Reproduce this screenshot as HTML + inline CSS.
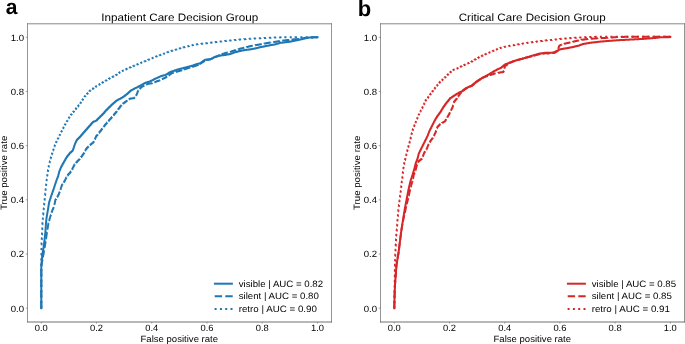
<!DOCTYPE html>
<html><head><meta charset="utf-8"><style>
html,body{margin:0;padding:0;background:#fff;}
svg{display:block;will-change:transform;}
text{font-family:"Liberation Sans",sans-serif;fill:#000;text-rendering:geometricPrecision;}
.tk{font-size:9.1px;}
.ti{font-size:10.8px;}
.lb{font-size:9.2px;}
.lg{font-size:9.2px;}
.pl{font-size:22px;font-weight:bold;}
.pa{font-size:21px;font-weight:bold;}
</style></head><body>
<svg width="685" height="344" viewBox="0 0 685 344">
<rect width="685" height="344" fill="#fff"/>
<g>
<path d="M41.30 308.20v-42.2v-.29h.05v-.29v-.29h.05v-.29v-.29h.05v-.29v-.29h.05v-.29v-.29h.05v-.28v-.29h.05v-.29v-.29h.05v-.29v-.29h.05v-.29v-.29h.05v-.29v-.29h.05v-.29v-.29h.05v-.29v-.29h.05v-.29v-.29h.05v-.29v-.29h.05v-.29v-.28h.05v-.29v-.29h.05v-.29v-.29h.05v-.29v-.29h.05v-.29v-.29h.05v-.29v-.29h.1v-.29v-.29h.11v-.3v-.29h.1v-.29v-.29h.11v-.29v-.29h.1v-.3v-.29h.1v-.29v-.29h.11v-.29v-.29h.1v-.3v-.29h.11v-.29v-.29h.1v-.29v-.29h.11v-.3v-.29h.1v-.29v-.29h.07v-.28v-.29h.07v-.28v-.29h.07v-.28v-.29h.08v-.29v-.28h.07v-.29v-.28h.07v-.29v-.28h.07v-.29v-.29h.07v-.28v-.29h.07v-.28v-.29h.07v-.28v-.29h.08v-.29v-.28h.07v-.29v-.28h.07v-.29v-.28h.07v-.29v-.29h.06v-.28v-.29h.07v-.28v-.29h.06v-.28v-.29h.07v-.29v-.28h.06v-.29v-.28h.07v-.29v-.28h.06v-.29v-.29h.06v-.28v-.29h.07v-.28v-.29h.06v-.28v-.29h.07v-.29v-.28h.06v-.29v-.28h.07v-.29v-.28h.06v-.29v-.3h.04v-.3v-.3h.04v-.3v-.3h.04v-.3v-.3h.04v-.3v-.3h.04v-.3v-.3h.04v-.3v-.3h.04v-.3v-.3h.04v-.3v-.3h.04v-.3v-.3h.04v-.3v-.3h.04v-.3v-.3h.04v-.3v-.3h.04v-.3v-.3h.04v-.3v-.3h.04v-.3v-.28h.06v-.27v-.27h.06v-.28v-.28h.06v-.27v-.28h.06v-.27v-.28h.06v-.27v-.28h.06v-.27v-.27h.06v-.28v-.28h.06v-.27v-.28h.06v-.27v-.28h.06v-.27v-.29h.1v-.29v-.29h.1v-.28v-.29h.1v-.29v-.29h.1v-.29v-.29h.1v-.28v-.29h.1v-.29v-.29h.1v-.29v-.29h.1v-.29v-.28h.1v-.29v-.29h.1v-.29v-.29h.1v-.29v-.28h.1v-.29v-.29h.1v-.29v-.29h.09v-.29v-.29h.09v-.28v-.29h.1v-.29v-.29h.09v-.29v-.29h.09v-.28v-.29h.09v-.29v-.29h.1v-.29v-.29h.09v-.29v-.28h.09v-.29v-.29h.09v-.29v-.29h.1v-.29v-.28h.09v-.29v-.29h.09v-.29v-.29h.19v-.29v-.29h.19v-.28v-.29h.2v-.29v-.29h.19v-.29v-.29h.19v-.28v-.29h.19v-.29v-.29h.2v-.29v-.29h.19v-.29v-.28h.19v-.29v-.29h.19v-.29v-.29h.2v-.29v-.28h.19v-.29v-.29h.19v-.29v-.29h.2v-.29v-.29h.2v-.29v-.29h.2v-.29v-.28h.2v-.29v-.29h.2v-.29v-.29h.2v-.29v-.29h.2v-.29v-.29h.2v-.29v-.29h.2v-.29v-.29h.2v-.29v-.28h.2v-.29v-.29h.2v-.29v-.29h.2v-.29v-.29h.2v-.29v-.28h.19v-.28v-.29h.18v-.28v-.28h.18v-.28v-.29h.19v-.28v-.28h.19v-.29v-.28h.18v-.28v-.28h.19v-.28v-.29h.18v-.28v-.28h.18v-.28v-.29h.19v-.28v-.28h.21v-.28v-.27h.2v-.28v-.28h.21v-.28v-.27h.2v-.28v-.28h.21v-.28v-.28h.2v-.27v-.28h.21v-.28v-.28h.2v-.27v-.28h.21v-.28v-.28h.14v-.28v-.27h.15v-.28v-.28h.14v-.28v-.27h.15v-.28v-.28h.14v-.28v-.28h.15v-.27v-.28h.14v-.28v-.28h.15v-.27v-.28h.14v-.28v-.27h.23v-.27v-.28h.23v-.27v-.27h.23v-.27v-.27h.23v-.28v-.27h.24v-.27v-.27h.23v-.27v-.27h.23v-.28v-.27h.23v-.27v-.28h.31v-.28v-.29h.32v-.28v-.28h.31v-.28v-.29h.32v-.28v-.28h.32v-.29v-.28h.31v-.28v-.28h.32v-.28v-.29h.31v-.28v-.28h.32v-.28v-.29h.31v-.28v-.27h.31v-.27v-.28h.32v-.27v-.27h.31v-.27v-.27h.31v-.28v-.27h.31v-.27v-.27h.32v-.27v-.27h.31v-.28v-.27h.31v-.27v-.27h.44v-.27v-.27h.45v-.28v-.27h.44v-.27v-.27h.44v-.27v-.27h.44v-.27v-.28h.45v-.27v-.27h.44v-.27v-.25h.56v-.25v-.25h.56v-.25v-.25h.56v-.25v-.25h.56v-.25v-.25h.56v-.25v-.3h.2v-.3v-.3h.2v-.3v-.3h.2v-.3v-.3h.2v-.3v-.3h.2v-.3v-.3h.2v-.3v-.3h.2v-.3v-.3h.2v-.3v-.3h.2v-.3v-.3h.2v-.3v-.3h.2v-.3v-.28h.26v-.28v-.28h.25v-.27v-.28h.26v-.28v-.28h.26v-.28v-.28h.26v-.28v-.27h.25v-.28v-.28h.26v-.28v-.26h.52v-.26v-.26h.51v-.25v-.26h.52v-.26v-.26h.52v-.26v-.25h.51v-.26v-.26h.52v-.26v-.28h.47v-.27v-.27h.48v-.28v-.28h.48v-.27v-.28h.47v-.27v-.28h.48v-.27v-.28h.47v-.27v-.28h.48v-.27v-.28h.47v-.27v-.28h.5v-.29v-.28h.5v-.29v-.28h.5v-.29v-.28h.5v-.29v-.28h.5v-.29v-.28h.5v-.29v-.28h.5v-.29v-.29h.5v-.28v-.28h.5v-.29v-.28h.5v-.29v-.28h.49v-.28v-.27h.49v-.28v-.28h.49v-.28v-.27h.49v-.28v-.28h.48v-.28v-.28h.49v-.27v-.28h.49v-.28v-.28h.49v-.27v-.28h.49v-.28v-.1h.52v-.1v-.1h.51v-.1v-.1h.52v-.1v-.1h.52v-.1v-.1h.51v-.1v-.1h.52v-.1v-.27h.54v-.27v-.27h.55v-.28v-.27h.54v-.27v-.27h.54v-.27v-.27h.54v-.27v-.28h.55v-.27v-.27h.54v-.27v-.28h.58v-.29v-.28h.59v-.28v-.29h.58v-.28v-.28h.58v-.29v-.28h.59v-.28v-.29h.58v-.28v-.29h.5v-.29v-.3h.5v-.29v-.29h.5v-.29v-.29h.5v-.29v-.3h.5v-.29v-.29h.5v-.29v-.3h.6v-.3v-.3h.6v-.3v-.3h.6v-.3v-.3h.6v-.3v-.3h.6v-.3v-.3h.6v-.3v-.26h.57v-.26v-.26h.58v-.26v-.26h.57v-.25v-.26h.57v-.26v-.26h.57v-.26v-.26h.58v-.26v-.26h.57v-.26v-.26h.57v-.26v-.25h.57v-.26v-.26h.58v-.26v-.26h.57v-.26v-.15h.57v-.16v-.15h.58v-.16v-.15h.57v-.16v-.15h.57v-.16v-.15h.57v-.16v-.15h.58v-.15v-.16h.57v-.15v-.16h.57v-.15v-.16h.57v-.15v-.16h.58v-.15v-.16h.57v-.15v-.2h.54v-.2v-.2h.55v-.2v-.2h.54v-.2v-.2h.54v-.2v-.2h.54v-.2v-.2h.55v-.2v-.2h.54v-.2v-.24h.56v-.25v-.24h.55v-.25v-.24h.56v-.25v-.24h.55v-.25v-.24h.56v-.24v-.25h.55v-.24v-.25h.56v-.24v-.25h.55v-.24v-.25h.56v-.24v-.14h.56v-.14v-.14h.55v-.14v-.13h.56v-.14v-.14h.55v-.14v-.14h.56v-.14v-.14h.55v-.14v-.14h.56v-.13v-.14h.55v-.14v-.14h.56v-.14v-.14h.56v-.15v-.14h.55v-.15v-.14h.56v-.15v-.14h.55v-.15v-.14h.56v-.14v-.15h.55v-.14v-.15h.56v-.14v-.15h.55v-.14v-.15h.56v-.14v-.16h.54v-.15v-.16h.55v-.16v-.16h.54v-.15v-.16h.54v-.16v-.15h.54v-.16v-.16h.55v-.16v-.15h.54v-.16v-.08h.56v-.09v-.08h.55v-.08v-.09h.56v-.08v-.08h.55v-.09v-.08h.56v-.08v-.09h.55v-.08v-.08h.56v-.09v-.08h.55v-.08v-.09h.56v-.08v-.15h.57v-.15v-.15h.58v-.15v-.15h.57v-.15v-.15h.57v-.15v-.15h.57v-.15v-.15h.58v-.15v-.15h.57v-.15v-.15h.57v-.15v-.15h.57v-.15v-.15h.58v-.15v-.15h.57v-.15v-.11h.56v-.11v-.11h.55v-.11v-.12h.56v-.11v-.11h.55v-.11v-.11h.56v-.11v-.11h.55v-.11v-.11h.56v-.12v-.11h.55v-.11v-.11h.56v-.11v-.08h.55v-.07v-.07h.55v-.08v-.08h.55v-.07v-.08h.55v-.07v-.08h.55v-.07v-.08h.55v-.07v-.08h.55v-.07v-.08h.55v-.07v-.2h.6v-.2v-.2h.6v-.2v-.2h.6v-.2v-.2h.6v-.2v-.2h.6v-.2v-.2h.6v-.2v-.2h.6v-.2v-.1h.58v-.09v-.1h.59v-.09v-.1h.58v-.1v-.09h.59v-.1v-.1h.58v-.09v-.1h.59v-.09v-.1h.58v-.1v-.09h.59v-.1v-.09h.58v-.1v-.1h.59v-.09v-.1h.58v-.1v-.09h.59v-.1v-.09h.58v-.1v-.07h.56v-.07v-.08h.55v-.07v-.07h.56v-.07v-.08h.55v-.07v-.07h.56v-.07v-.07h.55v-.08v-.07h.56v-.07v-.07h.55v-.08v-.07h.56v-.07v-.07h.58v-.08v-.07h.57v-.07v-.08h.58v-.07v-.07h.58v-.07v-.08h.57v-.07v-.07h.58v-.08v-.07h.58v-.07v-.08h.58v-.07v-.07h.57v-.08v-.07h.58v-.07v-.07h.58v-.08v-.07h.57v-.07v-.08h.58v-.07v-.1h.58v-.09v-.1h.57v-.09v-.1h.58v-.1v-.09h.58v-.1v-.1h.57v-.09v-.1h.58v-.09v-.1h.58v-.1v-.09h.58v-.1v-.09h.57v-.1v-.1h.58v-.09v-.1h.58v-.1v-.09h.57v-.1v-.09h.58v-.1v-.04h.55v-.04v-.03h.55v-.04v-.04h.55v-.03v-.04h.55v-.04v-.21h.56v-.21v-.2h.55v-.21v-.21h.56v-.21v-.21h.55v-.21v-.2h.56v-.21v-.21h.55v-.21v-.21h.56v-.21v-.2h.55v-.21v-.21h.56v-.21v-.01h.56v-.02v-.01h.55v-.02v-.01h.56v-.01v-.02h.55v-.01v-.02h.56v-.01v-.01h.55v-.02v-.01h.56v-.01v-.02h.55v-.01v-.02h.56v-.01v-.14h.56v-.15v-.14h.55v-.15v-.14h.56v-.15v-.14h.55v-.15v-.14h.56v-.14v-.15h.55v-.14v-.15h.56v-.14v-.15h.55v-.14v-.15h.56v-.14v-.07h.56v-.07v-.08h.55v-.07v-.07h.56v-.07v-.08h.55v-.07v-.07h.56v-.07v-.07h.55v-.08v-.07h.56v-.07v-.07h.55v-.08v-.07h.56v-.07v-.03h.56v-.04v-.03h.55v-.03v-.04h.56v-.03v-.03h.55v-.04v-.03h.56v-.03v-.04h.55v-.03v-.03h.56v-.04v-.03h.55v-.03v-.04h.56v-.03v-.06h.56v-.05v-.06h.55v-.05v-.06h.56v-.05v-.06h.55v-.05v-.06h.56v-.06v-.05h.55v-.06v-.05h.56v-.06v-.05h.55v-.06v-.05h.56v-.06v-.1h.56v-.09v-.1h.55v-.1v-.1h.56v-.09v-.1h.55v-.1v-.09h.56v-.1v-.1h.55v-.1v-.09h.56v-.1v-.1h.55v-.1v-.09h.56v-.1v-.07h.56v-.07v-.07h.55v-.07v-.07h.56v-.07v-.07h.55v-.07v-.06h.56v-.07v-.07h.55v-.07v-.07h.56v-.07v-.07h.55v-.07v-.07h.56v-.07v-.06h.56v-.05v-.06h.55v-.05v-.06h.56v-.05v-.06h.55v-.05v-.06h.56v-.06v-.05h.55v-.06v-.05h.56v-.06v-.05h.55v-.06v-.05h.56v-.06v-.03h.56v-.04v-.03h.55v-.03v-.04h.56v-.03v-.03h.55v-.04v-.03h.56v-.03v-.04h.55v-.03v-.03h.56v-.04v-.03h.55v-.03v-.04h.56v-.03v-.05h.56v-.05v-.05h.55v-.05v-.05h.56v-.05v-.05h.55v-.05v-.05h.56v-.05v-.05h.55v-.05v-.05h.56v-.05v-.05h.55v-.05v-.05h.56v-.05v-.07h.56v-.07v-.07h.55v-.07v-.07h.56v-.07v-.07h.55v-.07v-.06h.56v-.07v-.07h.55v-.07v-.07h.56v-.07v-.07h.55v-.07v-.07h.56v-.07v-.06h.56v-.05v-.06h.55v-.05v-.06h.56v-.05v-.06h.55v-.05v-.06h.56v-.06v-.05h.55v-.06v-.05h.56v-.06v-.05h.55v-.06v-.05h.56v-.06v-.06h.56v-.05v-.06h.55v-.05v-.06h.56v-.05v-.06h.55v-.05v-.06h.56v-.06v-.05h.55v-.06v-.05h.56v-.06v-.05h.55v-.06v-.05h.56v-.06v-.05h.56v-.04v-.05h.55v-.05v-.05h.56v-.04v-.05h.55v-.05v-.04h.56v-.05v-.05h.55v-.05v-.04h.56v-.05v-.05h.55v-.05v-.04h.56v-.05v-.08h.56v-.09v-.08h.55v-.08v-.09h.56v-.08v-.08h.55v-.09v-.08h.56v-.08v-.09h.55v-.08v-.08h.56v-.09v-.08h.55v-.08v-.09h.56v-.08v-.03h.56v-.04v-.03h.57v-.04v-.03h.56v-.03v-.04h.57v-.03v-.03h.56v-.04v-.03h.57v-.04v-.03h.56v-.03v-.04h.57v-.03v-.03h.56v-.04v-.03h.57v-.04v-.03h.56v-.03v-.04h.57v-.03v-.04h.56v-.03v-.03h.57v-.04v-.03h.56v-.03v-.04h.57v-.03v-.04h.56v-.03v-.06h.6v-.06v-.06h.6v-.06v-.06h.6v-.07v-.06h.6v-.06v-.06h.6v-.06v-.06h.6v-.06v-.06h.6v-.06v-.06h.6v-.07v-.06h.6v-.06v-.06h.6v-.06v-.06h.6v-.06v-.06h.6v-.06v-.06h.6v-.06v-.07h.6v-.06v-.06h.6v-.06v-.06h.6v-.06v-.07h.58v-.08v-.07h.58v-.07v-.07h.59v-.08v-.07h.58v-.07v-.07h.58v-.08v-.07h.58v-.07v-.08h.58v-.07v-.07h.58v-.07v-.08h.59v-.07v-.07h.58v-.07v-.08h.58v-.07v-.05h.53v-.05v-.05h.54v-.05v-.05h.53v-.05v-.05h.53v-.05v-.05h.54v-.05v-.05h.53v-.05v-.01h.58v-.02v-.01h.58v-.01v-.02h.58v-.01v-.01h.58v-.02v-.01h.58v-.01v-.02h.58v-.01v-.01h.58v-.02v-.01h.58v-.01v-.02h.58v-.01v-.01h.58v-.02v-.01h.58v-.01v-.02h.58v-.01v-.01h.58v-.02v-.01h.58v-.01v-.02h.58v-.01" fill="none" stroke="#1f77b4" stroke-width="2.0" stroke-linejoin="round" stroke-linecap="square"/>
<path d="M41.30 308.20v-42.2v-.3h.11v-.3v-.3h.11v-.3v-.3h.11v-.3v-.3h.11v-.3v-.3h.11v-.3v-.3h.11v-.3v-.3h.11v-.3v-.3h.11v-.3v-.3h.11v-.3v-.3h.11v-.3v-.3h.11v-.3v-.3h.11v-.3v-.3h.11v-.3v-.3h.11v-.3v-.3h.11v-.3v-.3h.11v-.3v-.3h.11v-.3v-.3h.11v-.3v-.3h.11v-.3v-.3h.11v-.3v-.29h.1v-.29v-.29h.1v-.29v-.29h.1v-.29v-.29h.1v-.29v-.29h.1v-.28v-.29h.1v-.29v-.29h.1v-.29v-.29h.1v-.29v-.29h.1v-.29v-.29h.1v-.29v-.29h.1v-.29v-.29h.1v-.29v-.29h.1v-.29v-.29h.1v-.29v-.28h.1v-.29v-.29h.1v-.29v-.29h.1v-.29v-.29h.1v-.29v-.29h.1v-.29v-.3h.09v-.3v-.29h.09v-.3v-.3h.08v-.3v-.29h.09v-.3v-.3h.09v-.3v-.29h.09v-.3v-.3h.09v-.3v-.29h.08v-.3v-.3h.09v-.3v-.29h.09v-.3v-.3h.09v-.3v-.3h.09v-.29v-.3h.09v-.3v-.3h.08v-.29v-.3h.09v-.3v-.3h.09v-.29v-.3h.09v-.3v-.3h.09v-.29v-.3h.08v-.3v-.3h.09v-.29v-.3h.09v-.3v-.29h.1v-.29v-.29h.09v-.28v-.29h.1v-.29v-.29h.09v-.29v-.29h.1v-.28v-.29h.1v-.29v-.29h.09v-.29v-.29h.1v-.29v-.28h.1v-.29v-.29h.09v-.29v-.29h.1v-.29v-.28h.09v-.29v-.29h.1v-.29v-.27h.16v-.26v-.27h.15v-.26v-.27h.16v-.26v-.27h.16v-.26v-.27h.15v-.27v-.26h.16v-.27v-.26h.15v-.27v-.26h.16v-.27v-.28h.17v-.29v-.28h.17v-.29v-.28h.16v-.28v-.29h.17v-.28v-.29h.17v-.28v-.28h.17v-.29v-.28h.17v-.29v-.28h.17v-.29v-.28h.16v-.28v-.29h.17v-.28v-.29h.17v-.28v-.28h.23v-.29v-.28h.22v-.29v-.28h.23v-.28v-.29h.23v-.28v-.29h.23v-.28v-.28h.22v-.29v-.28h.23v-.29v-.28h.23v-.29v-.28h.23v-.28v-.29h.22v-.28v-.29h.23v-.28v-.28h.12v-.29v-.28h.12v-.29v-.28h.11v-.28v-.29h.12v-.28v-.29h.12v-.28v-.28h.12v-.29v-.28h.12v-.29v-.28h.12v-.29v-.28h.11v-.28v-.29h.12v-.28v-.29h.12v-.28v-.28h.34v-.28v-.27h.35v-.28v-.28h.34v-.28v-.27h.35v-.28v-.28h.34v-.28v-.28h.35v-.27v-.28h.34v-.28v-.28h.35v-.27v-.28h.34v-.28v-.28h.21v-.28v-.27h.21v-.28v-.28h.21v-.28v-.27h.21v-.28v-.28h.22v-.28v-.28h.21v-.27v-.28h.21v-.28v-.28h.21v-.27v-.28h.21v-.28v-.28h.18v-.28v-.27h.18v-.28v-.28h.17v-.28v-.27h.18v-.28v-.28h.18v-.28v-.28h.18v-.27v-.28h.17v-.28v-.28h.18v-.27v-.28h.18v-.28v-.28h.38v-.27v-.27h.37v-.28v-.28h.38v-.27v-.28h.37v-.27v-.28h.38v-.27v-.28h.37v-.27v-.28h.38v-.27v-.28h.37v-.27v-.27h.24v-.27v-.28h.23v-.27v-.27h.24v-.27v-.27h.24v-.27v-.28h.24v-.27v-.27h.24v-.27v-.27h.23v-.28v-.27h.24v-.27v-.28h.48v-.28v-.27h.49v-.28v-.28h.48v-.28v-.27h.48v-.28v-.28h.49v-.28v-.28h.48v-.27v-.28h.48v-.28v-.28h.49v-.27v-.28h.48v-.28v-.29h.29v-.29v-.29h.29v-.28v-.29h.29v-.29v-.29h.28v-.29v-.29h.29v-.28v-.29h.29v-.29v-.29h.29v-.29v-.29h.29v-.29v-.28h.29v-.29v-.29h.28v-.29v-.29h.29v-.29v-.28h.29v-.29v-.29h.29v-.29v-.27h.54v-.27v-.26h.53v-.27v-.27h.54v-.27v-.26h.53v-.27v-.27h.54v-.27v-.27h.53v-.26v-.27h.54v-.27v-.27h.45v-.27v-.26h.45v-.27v-.27h.45v-.27v-.26h.45v-.27v-.27h.45v-.27v-.27h.45v-.26v-.27h.45v-.27v-.3h.4v-.29v-.3h.4v-.29v-.3h.4v-.3v-.29h.4v-.3v-.29h.4v-.3v-.29h.4v-.3v-.27h.27v-.27v-.27h.27v-.28v-.27h.27v-.27v-.27h.28v-.27v-.27h.27v-.27v-.28h.27v-.27v-.27h.27v-.27v-.26h.53v-.27v-.26h.53v-.27v-.26h.53v-.27v-.26h.52v-.26v-.27h.53v-.26v-.27h.53v-.26v-.27h.53v-.26v-.23h.54v-.23v-.23h.55v-.22v-.23h.54v-.23v-.23h.54v-.23v-.23h.54v-.23v-.22h.55v-.23v-.23h.54v-.23v-.28h.25v-.28v-.28h.25v-.28v-.28h.25v-.28v-.28h.25v-.28v-.28h.25v-.28v-.28h.25v-.28v-.28h.25v-.28v-.28h.25v-.28v-.28h.25v-.28v-.28h.25v-.28v-.29h.45v-.28v-.29h.46v-.29v-.28h.45v-.29v-.28h.46v-.29v-.29h.45v-.28v-.29h.46v-.29v-.28h.45v-.29v-.29h.46v-.28v-.29h.45v-.28v-.29h.46v-.29v-.28h.45v-.29v-.28h.42v-.28v-.27h.42v-.28v-.28h.43v-.28v-.27h.42v-.28v-.28h.42v-.28v-.28h.42v-.27v-.28h.43v-.28v-.28h.42v-.27v-.28h.42v-.28v-.28h.47v-.27v-.28h.48v-.27v-.28h.47v-.27v-.28h.48v-.27v-.28h.47v-.27v-.27h.48v-.28v-.27h.48v-.28v-.27h.47v-.28v-.28h.5v-.29v-.28h.5v-.29v-.28h.5v-.29v-.28h.5v-.29v-.28h.5v-.29v-.28h.5v-.29v-.28h.5v-.29v-.28h.5v-.29v-.28h.5v-.29v-.28h.5v-.29v-.3h.49v-.3v-.3h.48v-.3v-.3h.49v-.3v-.3h.49v-.3v-.3h.49v-.3v-.3h.48v-.3v-.3h.49v-.3v-.3h.49v-.3v-.28h.41v-.29v-.28h.41v-.28v-.29h.41v-.28v-.28h.41v-.29v-.28h.42v-.28v-.29h.41v-.28v-.28h.41v-.29v-.28h.41v-.28v-.29h.41v-.28v-.22h.54v-.22v-.22h.55v-.23v-.22h.54v-.22v-.22h.54v-.22v-.22h.54v-.22v-.23h.55v-.22v-.22h.54v-.22v-.19h.56v-.19v-.19h.55v-.19v-.18h.56v-.19v-.19h.55v-.19v-.19h.56v-.19v-.19h.55v-.19v-.19h.56v-.18v-.19h.55v-.19v-.19h.56v-.19v-.03h.54v-.03v-.03h.55v-.02v-.03h.54v-.03v-.03h.54v-.03v-.03h.54v-.03v-.02h.55v-.03v-.03h.54v-.03v-.26h.42v-.26v-.26h.41v-.25v-.26h.42v-.26v-.26h.42v-.26v-.25h.41v-.26v-.26h.42v-.26v-.28h.21v-.28v-.27h.21v-.28v-.28h.21v-.28v-.27h.21v-.28v-.28h.22v-.28v-.28h.21v-.27v-.28h.21v-.28v-.28h.21v-.27v-.28h.21v-.28v-.27h.52v-.26v-.27h.51v-.27v-.26h.52v-.27v-.27h.52v-.26v-.27h.51v-.27v-.26h.52v-.27v-.14h.57v-.14v-.14h.58v-.14v-.14h.57v-.15v-.14h.57v-.14v-.14h.57v-.14v-.14h.58v-.14v-.14h.57v-.14v-.14h.57v-.14v-.15h.57v-.14v-.14h.58v-.14v-.14h.57v-.14v-.03h.56v-.04v-.03h.55v-.03v-.04h.56v-.03v-.03h.55v-.04v-.03h.56v-.03v-.04h.55v-.03v-.03h.56v-.04v-.03h.55v-.03v-.04h.56v-.03v-.12h.56v-.12v-.13h.55v-.12v-.12h.56v-.12v-.13h.55v-.12v-.12h.56v-.12v-.12h.55v-.13v-.12h.56v-.12v-.12h.55v-.13v-.12h.56v-.12v-.12h.6v-.13v-.12h.6v-.13v-.12h.6v-.13v-.12h.6v-.13v-.12h.6v-.13v-.12h.6v-.13v-.14h.57v-.14v-.14h.58v-.14v-.14h.57v-.15v-.14h.57v-.14v-.14h.57v-.14v-.14h.58v-.14v-.14h.57v-.14v-.14h.57v-.14v-.15h.57v-.14v-.14h.58v-.14v-.14h.57v-.14v-.23h.54v-.23v-.23h.55v-.22v-.23h.54v-.23v-.23h.54v-.23v-.23h.54v-.23v-.22h.55v-.23v-.23h.54v-.23v-.08h.59v-.09v-.08h.58v-.08v-.09h.59v-.08v-.08h.59v-.09v-.08h.58v-.08v-.09h.59v-.08v-.08h.59v-.09v-.08h.58v-.08v-.09h.59v-.08v-.08h.59v-.09v-.08h.58v-.08v-.09h.59v-.08v-.08h.59v-.09v-.08h.58v-.08v-.09h.59v-.08v-.1h.58v-.09v-.1h.57v-.09v-.1h.58v-.1v-.09h.58v-.1v-.1h.57v-.09v-.1h.58v-.09v-.1h.58v-.1v-.09h.58v-.1v-.09h.57v-.1v-.1h.58v-.09v-.1h.58v-.1v-.09h.57v-.1v-.09h.58v-.1v-.09h.59v-.09v-.09h.59v-.09v-.1h.58v-.09v-.09h.59v-.09v-.09h.59v-.09v-.09h.59v-.09v-.1h.59v-.09v-.09h.59v-.09v-.09h.58v-.09v-.09h.59v-.09v-.09h.59v-.1v-.09h.59v-.09v-.09h.59v-.09v-.09h.59v-.09v-.09h.58v-.1v-.09h.59v-.09v-.09h.59v-.09v-.18h.59v-.18v-.19h.58v-.18v-.18h.59v-.18v-.19h.58v-.18v-.18h.59v-.18v-.18h.58v-.19v-.18h.59v-.18v-.18h.59v-.18v-.19h.58v-.18v-.18h.59v-.18v-.19h.58v-.18v-.18h.59v-.18v-.18h.58v-.19v-.18h.59v-.18v-.05h.57v-.06v-.05h.57v-.05v-.06h.57v-.05v-.05h.58v-.06v-.05h.57v-.06v-.05h.57v-.05v-.06h.57v-.05v-.12h.56v-.13v-.12h.55v-.13v-.12h.56v-.13v-.12h.55v-.13v-.12h.56v-.13v-.12h.55v-.13v-.12h.56v-.13v-.12h.55v-.13v-.12h.56v-.13v-.11h.56v-.11v-.11h.55v-.11v-.12h.56v-.11v-.11h.55v-.11v-.11h.56v-.11v-.11h.55v-.11v-.11h.56v-.12v-.11h.55v-.11v-.11h.56v-.11v-.11h.56v-.1v-.11h.55v-.1v-.11h.56v-.1v-.11h.55v-.1v-.11h.56v-.11v-.1h.55v-.11v-.1h.56v-.11v-.1h.55v-.11v-.1h.56v-.11v-.07h.56v-.06v-.07h.55v-.07v-.06h.56v-.07v-.07h.55v-.06v-.07h.56v-.07v-.06h.55v-.07v-.07h.56v-.06v-.07h.55v-.07v-.06h.56v-.07v-.09h.56v-.09v-.09h.55v-.1v-.09h.56v-.09v-.09h.55v-.09v-.09h.56v-.1v-.09h.55v-.09v-.09h.56v-.09v-.09h.55v-.1v-.09h.56v-.09v-.08h.56v-.09v-.08h.55v-.08v-.09h.56v-.08v-.08h.55v-.09v-.08h.56v-.08v-.09h.55v-.08v-.08h.56v-.09v-.08h.55v-.08v-.09h.56v-.08v-.07h.56v-.07v-.07h.55v-.07v-.07h.56v-.07v-.07h.55v-.07v-.06h.56v-.07v-.07h.55v-.07v-.07h.56v-.07v-.07h.55v-.07v-.07h.56v-.07v-.07h.56v-.07v-.07h.55v-.07v-.07h.56v-.07v-.07h.55v-.07v-.06h.56v-.07v-.07h.55v-.07v-.07h.56v-.07v-.07h.55v-.07v-.07h.56v-.07v-.06h.56v-.05v-.06h.55v-.05v-.06h.56v-.05v-.06h.55v-.05v-.06h.56v-.06v-.05h.55v-.06v-.05h.56v-.06v-.05h.55v-.06v-.05h.56v-.06v-.05h.56v-.04v-.05h.55v-.05v-.05h.56v-.04v-.05h.55v-.05v-.04h.56v-.05v-.05h.55v-.05v-.04h.56v-.05v-.05h.55v-.05v-.04h.56v-.05v-.05h.56v-.05v-.05h.55v-.05v-.05h.56v-.05v-.05h.55v-.05v-.05h.56v-.05v-.05h.55v-.05v-.05h.56v-.05v-.05h.55v-.05v-.05h.56v-.05v-.06h.56v-.05v-.06h.55v-.05v-.06h.56v-.05v-.06h.55v-.05v-.06h.56v-.06v-.05h.55v-.06v-.05h.56v-.06v-.05h.55v-.06v-.05h.56v-.06v-.03h.56v-.04v-.03h.55v-.03v-.04h.56v-.03v-.03h.55v-.04v-.03h.56v-.03v-.04h.55v-.03v-.03h.56v-.04v-.03h.55v-.03v-.04h.56v-.03v-.05h.56v-.05v-.05h.55v-.05v-.05h.56v-.05v-.05h.55v-.05v-.05h.56v-.05v-.05h.55v-.05v-.05h.56v-.05v-.05h.55v-.05v-.05h.56v-.05v-.04h.58v-.03v-.04h.58v-.04v-.03h.59v-.04v-.03h.58v-.04v-.04h.58v-.03v-.04h.58v-.04v-.03h.58v-.04v-.04h.58v-.03v-.04h.59v-.03v-.04h.58v-.04v-.03h.58v-.04v-.03h.56v-.04v-.04h.56v-.03v-.03h.56v-.04v-.04h.56v-.03v-.03h.56v-.04v-.04h.56v-.03v-.03h.56v-.04v-.04h.56v-.03v-.03h.56v-.04v-.04h.56v-.03v-.02h.6v-.02v-.02h.6v-.02v-.02h.6v-.02v-.03h.6v-.02v-.02h.6v-.02v-.02h.6v-.02v-.02h.6v-.02v-.02h.6v-.02v-.02h.6v-.02v-.03h.6v-.02v-.02h.6v-.02v-.02h.6v-.02v-.05h.58v-.05v-.05h.58v-.05v-.05h.58v-.05v-.05h.58v-.05v-.05h.58v-.05v-.05h.58v-.05v-.05h.58v-.05v-.05h.58v-.05v-.05h.58v-.05v-.05h.58v-.05v-.03h.56v-.03v-.02h.55v-.03v-.03h.56v-.03v-.02h.55v-.03v-.03h.56v-.03v-.03h.55v-.02v-.03h.56v-.03v-.03h.55v-.02v-.03h.56v-.03v-.01h.58v-.01v-.01h.57v-.02v-.01h.58v-.01v-.01h.58v-.01v-.01h.57v-.02v-.01h.58v-.01v-.01h.58v-.01v-.01h.58v-.01v-.02h.57v-.01v-.01h.58v-.01v-.01h.58v-.01v-.02h.57v-.01v-.01h.58v-.01" fill="none" stroke="#1f77b4" stroke-width="2.0" stroke-linejoin="round" stroke-dasharray="7.4 3.2"/>
<path d="M41.30 308.20v-42.2v-.3h.01v-.3v-.3v-.3v-.3h.01v-.3v-.3v-.3v-.3h.01v-.3v-.3v-.3v-.3h.01v-.3v-.3h.01v-.3v-.3v-.3v-.3h.01v-.3v-.3v-.3v-.3h.01v-.3v-.3v-.3v-.3h.01v-.3v-.3h.01v-.3v-.3v-.3v-.3h.01v-.3v-.3v-.3v-.3h.01v-.3v-.3v-.3v-.3h.01v-.3v-.3h.01v-.3v-.3v-.3v-.3h.01v-.3v-.3v-.3v-.3h.01v-.3v-.3v-.3v-.3h.01v-.3v-.3h.01v-.3v-.3v-.3v-.3h.01v-.3v-.3v-.3v-.3h.01v-.3v-.3v-.3v-.3h.01v-.3v-.3h.03v-.3v-.3h.03v-.3v-.3h.03v-.3v-.3h.03v-.3v-.3h.03v-.3v-.3h.03v-.3v-.3h.03v-.3v-.3h.03v-.3v-.3h.03v-.3v-.3h.03v-.3v-.3h.03v-.3v-.3h.03v-.3v-.3h.03v-.3v-.3h.03v-.3v-.3h.03v-.3v-.3h.03v-.3v-.3h.03v-.3v-.3h.03v-.3v-.3h.03v-.3v-.3h.03v-.3v-.3h.03v-.3v-.3h.03v-.3v-.3h.03v-.3v-.3h.03v-.3v-.3h.03v-.3v-.29h.02v-.29v-.29h.02v-.28v-.29h.02v-.29v-.29h.02v-.29v-.29h.02v-.28v-.29h.02v-.29v-.29h.01v-.29v-.29h.02v-.29v-.28h.02v-.29v-.29h.02v-.29v-.29h.02v-.29v-.28h.02v-.29v-.29h.02v-.29v-.29h.05v-.29v-.29h.05v-.3v-.29h.05v-.29v-.29h.05v-.29v-.29h.05v-.3v-.29h.05v-.29v-.29h.05v-.29v-.29h.05v-.3v-.29h.05v-.29v-.29h.05v-.29v-.29h.05v-.3v-.29h.05v-.29v-.29h.05v-.29v-.29h.05v-.3v-.29h.05v-.29v-.29h.06v-.29v-.29h.05v-.3v-.29h.06v-.29v-.29h.06v-.29v-.29h.05v-.3v-.29h.06v-.29v-.29h.06v-.29v-.29h.05v-.3v-.29h.06v-.29v-.29h.06v-.29v-.29h.05v-.3v-.29h.06v-.29v-.29h.06v-.29v-.29h.05v-.3v-.29h.06v-.29v-.29h.06v-.29v-.29h.06v-.3v-.29h.06v-.29v-.29h.06v-.29v-.29h.06v-.3v-.29h.06v-.29v-.29h.06v-.29v-.29h.06v-.3v-.29h.06v-.29v-.29h.06v-.29v-.29h.06v-.3v-.29h.06v-.29v-.29h.06v-.29v-.29h.06v-.3v-.29h.06v-.29v-.29h.06v-.3v-.29h.05v-.3v-.29h.06v-.3v-.29h.06v-.3v-.29h.06v-.3v-.29h.05v-.3v-.29h.06v-.29v-.3h.06v-.29v-.3h.05v-.29v-.3h.06v-.29v-.3h.06v-.29v-.3h.06v-.29v-.3h.05v-.29v-.3h.06v-.29v-.3h.06v-.29v-.3h.07v-.29v-.3h.06v-.29v-.3h.06v-.29v-.3h.07v-.29v-.3h.06v-.3v-.29h.07v-.3v-.29h.06v-.3v-.29h.06v-.3v-.29h.07v-.3v-.29h.06v-.3v-.3h.08v-.3v-.29h.07v-.3v-.3h.08v-.3v-.3h.08v-.29v-.3h.07v-.3v-.3h.08v-.3v-.29h.08v-.3v-.3h.08v-.3v-.3h.07v-.3v-.29h.08v-.3v-.3h.08v-.3v-.3h.07v-.29v-.3h.08v-.3v-.29h.1v-.29v-.29h.09v-.28v-.29h.1v-.29v-.29h.09v-.29v-.29h.1v-.28v-.29h.1v-.29v-.29h.09v-.29v-.29h.1v-.29v-.28h.1v-.29v-.29h.09v-.29v-.29h.1v-.29v-.28h.09v-.29v-.29h.1v-.29v-.29h.14v-.29v-.29h.14v-.28v-.29h.15v-.29v-.29h.14v-.29v-.29h.14v-.28v-.29h.14v-.29v-.29h.15v-.29v-.29h.14v-.29v-.28h.14v-.29v-.29h.14v-.29v-.29h.15v-.29v-.28h.14v-.29v-.29h.14v-.29v-.28h.17v-.29v-.28h.18v-.29v-.28h.17v-.28v-.29h.17v-.28v-.29h.17v-.28v-.28h.18v-.29v-.28h.17v-.29v-.28h.17v-.29v-.28h.17v-.28v-.29h.18v-.28v-.29h.17v-.28v-.29h.19v-.29v-.29h.19v-.28v-.29h.2v-.29v-.29h.19v-.29v-.29h.19v-.28v-.29h.19v-.29v-.29h.2v-.29v-.29h.19v-.29v-.28h.19v-.29v-.29h.19v-.29v-.29h.2v-.29v-.28h.19v-.29v-.29h.19v-.29v-.24h.2v-.24v-.24h.2v-.24v-.24h.2v-.24v-.24h.2v-.24v-.24h.2v-.24v-.29h.29v-.29v-.29h.3v-.29v-.29h.29v-.29v-.29h.29v-.29v-.29h.3v-.29v-.29h.29v-.29v-.29h.29v-.29v-.29h.3v-.29v-.29h.29v-.29v-.29h.29v-.29v-.29h.3v-.29v-.29h.29v-.29v-.29h.29v-.29v-.29h.3v-.29v-.29h.29v-.29v-.29h.29v-.3v-.29h.3v-.29v-.3h.29v-.29v-.29h.29v-.3v-.29h.3v-.29v-.3h.29v-.29v-.29h.29v-.3v-.29h.3v-.29v-.3h.29v-.29v-.29h.29v-.3v-.29h.3v-.29v-.3h.29v-.29v-.29h.29v-.3v-.29h.3v-.29v-.3h.29v-.29v-.29h.34v-.3v-.29h.34v-.29v-.3h.34v-.29v-.29h.34v-.3v-.29h.34v-.29v-.3h.34v-.29v-.29h.34v-.3v-.29h.34v-.29v-.3h.34v-.29v-.29h.34v-.3v-.29h.34v-.29v-.3h.34v-.29v-.29h.34v-.3v-.29h.34v-.29v-.3h.34v-.29v-.29h.45v-.28v-.29h.46v-.29v-.28h.45v-.29v-.28h.46v-.29v-.29h.45v-.28v-.29h.46v-.29v-.28h.45v-.29v-.29h.46v-.28v-.29h.45v-.28v-.29h.46v-.29v-.28h.45v-.29v-.28h.46v-.27v-.28h.47v-.28v-.28h.46v-.27v-.28h.46v-.28v-.28h.47v-.27v-.28h.46v-.28v-.27h.47v-.28v-.28h.46v-.28v-.27h.46v-.28v-.28h.47v-.28v-.27h.46v-.28v-.29h.38v-.29v-.3h.39v-.29v-.29h.38v-.29v-.3h.39v-.29v-.29h.38v-.29v-.3h.39v-.29v-.29h.38v-.29v-.29h.39v-.3v-.29h.38v-.29v-.29h.39v-.3v-.29h.38v-.29v-.29h.39v-.3v-.29h.38v-.29v-.28h.5v-.28v-.28h.5v-.28v-.28h.5v-.28v-.28h.5v-.28v-.28h.5v-.28v-.28h.5v-.28v-.28h.5v-.28v-.28h.5v-.28v-.28h.5v-.28v-.28h.5v-.28v-.2h.57v-.2v-.2h.58v-.2v-.2h.57v-.2v-.2h.57v-.2v-.2h.57v-.2v-.2h.58v-.2v-.2h.57v-.2v-.2h.57v-.2v-.2h.57v-.2v-.2h.58v-.2v-.2h.57v-.2v-.17h.57v-.18v-.17h.58v-.17v-.17h.57v-.18v-.17h.57v-.17v-.17h.57v-.18v-.17h.58v-.17v-.18h.57v-.17v-.17h.57v-.17v-.18h.57v-.17v-.17h.58v-.17v-.18h.57v-.17v-.17h.57v-.17v-.16h.58v-.17v-.17h.57v-.17v-.17h.57v-.17v-.16h.57v-.17v-.17h.58v-.17v-.17h.57v-.16v-.17h.57v-.17v-.17h.57v-.17v-.17h.58v-.16v-.17h.57v-.17v-.15h.57v-.14v-.15h.58v-.14v-.15h.57v-.14v-.15h.57v-.14v-.15h.57v-.14v-.15h.58v-.15v-.14h.57v-.15v-.14h.57v-.15v-.14h.57v-.15v-.14h.58v-.15v-.14h.57v-.15v-.19h.55v-.19v-.19h.56v-.19v-.19h.55v-.2v-.19h.56v-.19v-.19h.55v-.19v-.19h.56v-.19v-.19h.55v-.19v-.19h.56v-.19v-.2h.55v-.19v-.19h.56v-.19v-.19h.55v-.19v-.13h.59v-.14v-.13h.6v-.14v-.13h.59v-.14v-.13h.6v-.13v-.14h.59v-.13v-.14h.6v-.13v-.13h.59v-.14v-.13h.6v-.14v-.13h.59v-.14v-.13h.6v-.13v-.14h.59v-.13v-.14h.6v-.13v-.14h.59v-.13v-.13h.6v-.14v-.13h.59v-.14v-.13h.6v-.13v-.14h.59v-.13v-.14h.6v-.13v-.14h.59v-.13v-.12h.6v-.13v-.12h.59v-.13v-.12h.6v-.12v-.13h.59v-.12v-.12h.6v-.13v-.12h.59v-.13v-.12h.6v-.12v-.13h.59v-.12v-.12h.6v-.13v-.12h.59v-.13v-.12h.6v-.12v-.13h.59v-.12v-.13h.6v-.12v-.12h.59v-.13v-.12h.6v-.12v-.13h.59v-.12v-.13h.6v-.12v-.12h.59v-.13v-.12h.6v-.12v-.13h.59v-.12v-.13h.6v-.12v-.12h.6v-.12v-.12h.6v-.13v-.12h.6v-.12v-.12h.6v-.12v-.12h.6v-.12v-.13h.6v-.12v-.12h.6v-.12v-.12h.6v-.12v-.12h.6v-.13v-.12h.6v-.12v-.12h.6v-.12v-.12h.6v-.12v-.13h.6v-.12v-.12h.6v-.12v-.12h.6v-.12v-.12h.6v-.13v-.12h.6v-.12v-.12h.6v-.12v-.12h.6v-.12v-.13h.6v-.12v-.12h.6v-.12v-.11h.6v-.11v-.12h.59v-.11v-.11h.6v-.11v-.11h.59v-.12v-.11h.6v-.11v-.11h.59v-.11v-.11h.6v-.12v-.11h.59v-.11v-.11h.6v-.11v-.12h.59v-.11v-.11h.6v-.11v-.11h.59v-.12v-.11h.6v-.11v-.11h.59v-.11v-.12h.6v-.11v-.11h.59v-.11v-.11h.6v-.11v-.12h.59v-.11v-.11h.6v-.11v-.11h.59v-.12v-.11h.6v-.11v-.09h.57v-.08v-.09h.58v-.09v-.08h.57v-.09v-.08h.57v-.09v-.09h.57v-.08v-.09h.58v-.09v-.08h.57v-.09v-.09h.57v-.08v-.09h.57v-.08v-.09h.58v-.09v-.08h.57v-.09v-.09h.57v-.08v-.09h.58v-.09v-.08h.57v-.09v-.08h.57v-.09v-.09h.57v-.08v-.09h.58v-.09v-.08h.57v-.09v-.09h.57v-.08v-.09h.57v-.08v-.09h.58v-.09v-.08h.57v-.09v-.07h.58v-.07v-.07h.58v-.07v-.07h.58v-.06v-.07h.58v-.07v-.07h.58v-.07v-.07h.59v-.07v-.07h.58v-.07v-.07h.58v-.06v-.07h.58v-.07v-.07h.58v-.07v-.07h.58v-.07v-.07h.58v-.07v-.07h.58v-.07v-.06h.58v-.07v-.07h.58v-.07v-.07h.59v-.07v-.07h.58v-.07v-.07h.58v-.07v-.06h.58v-.07v-.07h.58v-.07v-.07h.58v-.07v-.04h.56v-.04v-.04h.55v-.04v-.03h.56v-.04v-.04h.55v-.04v-.04h.56v-.04v-.04h.55v-.04v-.04h.56v-.03v-.04h.55v-.04v-.04h.56v-.04v-.03h.6v-.04v-.03h.59v-.03v-.04h.6v-.03v-.03h.59v-.04v-.03h.6v-.03v-.04h.59v-.03v-.03h.6v-.04v-.03h.59v-.03v-.04h.6v-.03v-.03h.59v-.04v-.03h.6v-.03v-.04h.59v-.03v-.03h.6v-.04v-.03h.59v-.03v-.04h.6v-.03v-.03h.59v-.04v-.03h.6v-.03v-.04h.59v-.03v-.03h.6v-.04v-.03h.59v-.03v-.04h.6v-.03v-.04h.6v-.03v-.04h.59v-.03v-.04h.6v-.03v-.04h.59v-.04v-.03h.6v-.04v-.03h.59v-.04v-.03h.6v-.04v-.04h.59v-.03v-.04h.6v-.03v-.04h.59v-.03v-.04h.6v-.04v-.03h.59v-.04v-.03h.6v-.04v-.03h.59v-.04v-.04h.6v-.03v-.04h.59v-.03v-.04h.6v-.03v-.04h.59v-.04v-.03h.6v-.04v-.03h.59v-.04v-.03h.6v-.04v-.03h.6v-.03v-.03h.59v-.03v-.03h.6v-.03v-.03h.59v-.03v-.03h.6v-.03v-.03h.59v-.03v-.03h.6v-.03v-.03h.59v-.03v-.03h.6v-.03v-.03h.59v-.03v-.02h.6v-.03v-.03h.59v-.03v-.03h.6v-.03v-.03h.59v-.03v-.03h.6v-.03v-.03h.59v-.03v-.03h.6v-.03v-.03h.59v-.03v-.03h.6v-.03v-.03h.59v-.03v-.03h.6v-.03v-.02h.6v-.03v-.02h.59v-.03v-.02h.6v-.02v-.03h.59v-.02v-.02h.6v-.03v-.02h.59v-.03v-.02h.6v-.02v-.03h.59v-.02v-.02h.6v-.03v-.02h.59v-.03v-.02h.6v-.02v-.03h.59v-.02v-.03h.6v-.02v-.02h.59v-.03v-.02h.6v-.02v-.03h.59v-.02v-.03h.6v-.02v-.02h.59v-.03v-.02h.6v-.02v-.03h.59v-.02v-.03h.6v-.02v-.02h.6v-.01v-.02h.59v-.01v-.02h.6v-.01v-.02h.59v-.01v-.02h.6v-.01v-.02h.59v-.02v-.01h.6v-.02v-.01h.59v-.02v-.01h.6v-.02v-.01h.59v-.02v-.02h.6v-.01v-.02h.59v-.01v-.02h.6v-.01v-.02h.59v-.01v-.02h.6v-.01v-.02h.59v-.02v-.01h.6v-.02v-.01h.59v-.02v-.01h.6v-.02v-.01h.59v-.02v-.01h.6v-.02v-.01h.6v-.02v-.01h.59v-.02v-.01h.6v-.02v-.01h.59v-.01v-.02h.6v-.01v-.02h.59v-.01v-.02h.6v-.01v-.01h.59v-.02v-.01h.6v-.02v-.01h.59v-.02v-.01h.6v-.01v-.02h.59v-.01v-.02h.6v-.01v-.02h.59v-.01v-.01h.6v-.02v-.01h.59v-.02v-.01h.6v-.02v-.01h.59v-.01v-.02h.6v-.01v-.02h.59v-.01v-.02h.6v-.01v-.01h.59v-.01h.59v-.01h.59v-.01v-.01h.59v-.01h.58v-.01v-.01h.59v-.01h.59v-.01h.59v-.01v-.01h.59v-.01h.59v-.01v-.01h.59v-.01h.59v-.01h.59v-.01v-.01h.58v-.01h.59v-.01v-.01h.59v-.01h.59v-.01h.59v-.01h.59h.59h.59h.59h.59v-.01h.59h.6h.59h.59h.59h.59h.59h.59h.59h.59h.59v-.01h.59h.59h.59h.59h.6h.59h.59h.59h.59h.59h.59v-.01h.59h.59h.59h.59h.59h.59h.6h.59h.59h.59h.59v-.01h.59h.59h.59h.59h.59h.59h.59h.59h.59h.6h.59v-.01h.59h.59h.59h.59h.59" fill="none" stroke="#1f77b4" stroke-width="2.0" stroke-linejoin="round" stroke-dasharray="2 3.3"/>
</g>
<line x1="27.5" y1="23.1" x2="27.5" y2="322.5" stroke="#949494" stroke-width="1"/>
<line x1="331.5" y1="23.1" x2="331.5" y2="322.5" stroke="#949494" stroke-width="1"/>
<line x1="27.0" y1="23.8" x2="332.0" y2="23.8" stroke="#888" stroke-width="1"/>
<line x1="27.0" y1="322.0" x2="332.0" y2="322.0" stroke="#707070" stroke-width="1"/>
<line x1="41.30" y1="322.0" x2="41.30" y2="323.5" stroke="#666" stroke-width="0.6"/>
<line x1="25.8" y1="308.20" x2="27.5" y2="308.20" stroke="#666" stroke-width="0.6"/>
<text x="34.80" y="331.45" class="tk" textLength="13.0" lengthAdjust="spacingAndGlyphs">0.0</text>
<text x="10.75" y="311.55" class="tk" textLength="13.35" lengthAdjust="spacingAndGlyphs">0.0</text>
<line x1="96.54" y1="322.0" x2="96.54" y2="323.5" stroke="#666" stroke-width="0.6"/>
<line x1="25.8" y1="254.02" x2="27.5" y2="254.02" stroke="#666" stroke-width="0.6"/>
<text x="90.04" y="331.45" class="tk" textLength="13.0" lengthAdjust="spacingAndGlyphs">0.2</text>
<text x="10.75" y="257.37" class="tk" textLength="13.35" lengthAdjust="spacingAndGlyphs">0.2</text>
<line x1="151.78" y1="322.0" x2="151.78" y2="323.5" stroke="#666" stroke-width="0.6"/>
<line x1="25.8" y1="199.84" x2="27.5" y2="199.84" stroke="#666" stroke-width="0.6"/>
<text x="145.28" y="331.45" class="tk" textLength="13.0" lengthAdjust="spacingAndGlyphs">0.4</text>
<text x="10.75" y="203.19" class="tk" textLength="13.35" lengthAdjust="spacingAndGlyphs">0.4</text>
<line x1="207.02" y1="322.0" x2="207.02" y2="323.5" stroke="#666" stroke-width="0.6"/>
<line x1="25.8" y1="145.66" x2="27.5" y2="145.66" stroke="#666" stroke-width="0.6"/>
<text x="200.52" y="331.45" class="tk" textLength="13.0" lengthAdjust="spacingAndGlyphs">0.6</text>
<text x="10.75" y="149.01" class="tk" textLength="13.35" lengthAdjust="spacingAndGlyphs">0.6</text>
<line x1="262.26" y1="322.0" x2="262.26" y2="323.5" stroke="#666" stroke-width="0.6"/>
<line x1="25.8" y1="91.48" x2="27.5" y2="91.48" stroke="#666" stroke-width="0.6"/>
<text x="255.76" y="331.45" class="tk" textLength="13.0" lengthAdjust="spacingAndGlyphs">0.8</text>
<text x="10.75" y="94.83" class="tk" textLength="13.35" lengthAdjust="spacingAndGlyphs">0.8</text>
<line x1="317.50" y1="322.0" x2="317.50" y2="323.5" stroke="#666" stroke-width="0.6"/>
<line x1="25.8" y1="37.30" x2="27.5" y2="37.30" stroke="#666" stroke-width="0.6"/>
<text x="311.00" y="331.45" class="tk" textLength="13.0" lengthAdjust="spacingAndGlyphs">1.0</text>
<text x="10.75" y="40.65" class="tk" textLength="13.35" lengthAdjust="spacingAndGlyphs">1.0</text>
<text x="101.2" y="20.9" class="ti" textLength="157.0" lengthAdjust="spacingAndGlyphs">Inpatient Care Decision Group</text>
<text x="140.5" y="342" class="lb" textLength="77.6" lengthAdjust="spacingAndGlyphs">False positive rate</text>
<text transform="translate(7.0,210.0) rotate(-90)" x="0" y="0" class="lb" textLength="74.3" lengthAdjust="spacingAndGlyphs">True positive rate</text>
<line x1="213.9" y1="283.7" x2="232.9" y2="283.7" stroke="#1f77b4" stroke-width="2.0"/>
<text x="238.7" y="286.6" class="lg" textLength="84.4" lengthAdjust="spacingAndGlyphs">visible | AUC = 0.82</text>
<line x1="214.70000000000002" y1="296.3" x2="232.9" y2="296.3" stroke="#1f77b4" stroke-width="2.0" stroke-dasharray="7.4 3.2"/>
<text x="238.7" y="299.3" class="lg" textLength="80.2" lengthAdjust="spacingAndGlyphs">silent | AUC = 0.80</text>
<line x1="214.6" y1="309.1" x2="232.9" y2="309.1" stroke="#1f77b4" stroke-width="2.0" stroke-dasharray="2 3.3"/>
<text x="238.7" y="311.9" class="lg" textLength="78.2" lengthAdjust="spacingAndGlyphs">retro | AUC = 0.90</text>
<text x="5.7" y="14.3" class="pa">a</text>
<g>
<path d="M394.30 308.20v-.3h.01v-.3v-.3h.02v-.3v-.3h.01v-.3v-.3h.01v-.3v-.3h.02v-.3v-.3h.01v-.3v-.3h.02v-.3v-.3h.01v-.3v-.3h.01v-.3v-.3h.02v-.3v-.3h.01v-.3v-.3h.01v-.3v-.3h.02v-.3v-.3h.01v-.3v-.3h.01v-.3v-.3h.02v-.3v-.3h.01v-.3v-.3h.02v-.3v-.3h.01v-.3v-.3h.01v-.3v-.3h.02v-.3v-.3h.01v-.3v-.28h.02v-.29v-.28h.02v-.29v-.28h.03v-.29v-.28h.02v-.29v-.28h.02v-.29v-.28h.02v-.29v-.28h.03v-.29v-.28h.02v-.29v-.28h.02v-.29v-.28h.02v-.28v-.29h.02v-.28v-.29h.03v-.28v-.29h.02v-.28v-.29h.02v-.28v-.29h.02v-.28v-.29h.03v-.28v-.29h.02v-.28v-.29h.02v-.28v-.3h.05v-.3v-.3h.04v-.3v-.3h.05v-.3v-.29h.04v-.3v-.3h.05v-.3v-.3h.04v-.3v-.3h.05v-.3v-.3h.04v-.3v-.3h.05v-.3v-.3h.04v-.29v-.3h.05v-.3v-.3h.05v-.3v-.3h.04v-.3v-.3h.05v-.3v-.3h.04v-.3v-.3h.05v-.3v-.3h.04v-.29v-.3h.05v-.3v-.3h.04v-.3v-.3h.05v-.3v-.3h.04v-.3v-.3h.05v-.3v-.3h.05v-.3v-.29h.04v-.3v-.3h.05v-.3v-.3h.04v-.3v-.3h.05v-.3v-.3h.04v-.3v-.3h.05v-.3v-.3h.04v-.29v-.3h.05v-.3v-.3h.04v-.3v-.3h.05v-.3v-.3h.1v-.3v-.3h.1v-.3v-.3h.1v-.3v-.3h.1v-.3v-.3h.1v-.3v-.3h.1v-.3v-.3h.1v-.3v-.3h.1v-.3v-.3h.1v-.3v-.3h.1v-.3v-.3h.1v-.3v-.3h.1v-.3v-.3h.1v-.3v-.3h.1v-.3v-.3h.1v-.3v-.3h.1v-.3v-.3h.1v-.3v-.3h.1v-.3v-.3h.1v-.3v-.3h.1v-.3v-.29h.07v-.3v-.29h.08v-.3v-.29h.07v-.29v-.3h.07v-.29v-.3h.08v-.29v-.3h.07v-.29v-.29h.07v-.3v-.29h.08v-.3v-.29h.07v-.29v-.3h.08v-.29v-.3h.07v-.29v-.29h.07v-.3v-.29h.08v-.3v-.29h.07v-.3v-.29h.07v-.29v-.3h.08v-.29v-.3h.07v-.29v-.29h.07v-.3v-.29h.08v-.3v-.29h.07v-.29v-.3h.07v-.29v-.3h.08v-.29v-.3h.07v-.29v-.29h.07v-.3v-.29h.08v-.3v-.29h.07v-.29v-.3h.08v-.29v-.3h.07v-.29v-.29h.07v-.3v-.29h.08v-.3v-.29h.07v-.3v-.29h.07v-.29v-.3h.08v-.29v-.3h.07v-.29v-.29h.09v-.3v-.29h.09v-.3v-.29h.08v-.29v-.3h.09v-.29v-.3h.09v-.29v-.3h.09v-.29v-.29h.09v-.3v-.29h.09v-.3v-.29h.08v-.29v-.3h.09v-.29v-.3h.09v-.29v-.29h.09v-.3v-.29h.09v-.3v-.29h.09v-.3v-.29h.08v-.29v-.3h.09v-.29v-.3h.09v-.29v-.3h.1v-.29v-.3h.09v-.29v-.3h.1v-.29v-.3h.09v-.29v-.3h.1v-.29v-.3h.09v-.3v-.29h.1v-.3v-.29h.09v-.3v-.29h.1v-.3v-.29h.09v-.3v-.29h.1v-.3v-.3h.1v-.29v-.3h.09v-.29v-.3h.1v-.29v-.3h.09v-.29v-.3h.1v-.29v-.3h.09v-.3v-.29h.1v-.3v-.29h.09v-.3v-.29h.1v-.3v-.29h.09v-.3v-.29h.1v-.3v-.29h.11v-.3v-.29h.11v-.3v-.29h.12v-.29v-.3h.11v-.29v-.3h.11v-.29v-.3h.11v-.29v-.29h.11v-.3v-.29h.11v-.3v-.29h.12v-.29v-.3h.11v-.29v-.3h.11v-.29v-.29h.11v-.3v-.29h.11v-.3v-.29h.11v-.3v-.29h.12v-.29v-.3h.11v-.29v-.3h.11v-.29v-.29h.11v-.3v-.29h.11v-.3v-.29h.12v-.29v-.3h.11v-.29v-.3h.11v-.29v-.3h.11v-.29v-.29h.11v-.3v-.29h.11v-.3v-.29h.12v-.29v-.3h.11v-.29v-.3h.11v-.29v-.29h.11v-.3v-.29h.11v-.3v-.29h.11v-.3v-.29h.12v-.29v-.3h.11v-.29v-.3h.11v-.29v-.29h.13v-.28v-.29h.13v-.28v-.29h.14v-.28v-.29h.13v-.29v-.28h.13v-.29v-.28h.13v-.29v-.28h.13v-.29v-.29h.14v-.28v-.29h.13v-.28v-.29h.13v-.28v-.29h.13v-.29v-.28h.14v-.29v-.28h.13v-.29v-.28h.13v-.29v-.29h.19v-.29v-.29h.19v-.3v-.29h.18v-.29v-.29h.19v-.29v-.29h.19v-.3v-.29h.19v-.29v-.29h.18v-.29v-.29h.19v-.3v-.29h.19v-.29v-.29h.19v-.29v-.29h.18v-.3v-.29h.19v-.29v-.28h.17v-.29v-.28h.18v-.29v-.28h.17v-.28v-.29h.17v-.28v-.29h.17v-.28v-.28h.18v-.29v-.28h.17v-.29v-.28h.17v-.29v-.28h.17v-.28v-.29h.18v-.28v-.29h.17v-.28v-.28h.13v-.28v-.27h.14v-.28v-.28h.13v-.28v-.27h.13v-.28v-.28h.14v-.28v-.28h.13v-.27v-.28h.13v-.28v-.28h.14v-.27v-.28h.13v-.28v-.28h.21v-.28v-.27h.21v-.28v-.28h.21v-.28v-.27h.21v-.28v-.28h.22v-.28v-.28h.21v-.27v-.28h.21v-.28v-.28h.21v-.27v-.28h.21v-.28v-.28h.14v-.28v-.27h.14v-.28v-.28h.14v-.28v-.27h.14v-.28v-.28h.13v-.28v-.28h.14v-.27v-.28h.14v-.28v-.28h.14v-.27v-.28h.14v-.28v-.27h.26v-.27v-.26h.27v-.27v-.27h.26v-.27v-.26h.27v-.27v-.27h.26v-.27v-.27h.27v-.26v-.27h.26v-.27v-.28h.28v-.28v-.27h.28v-.28v-.28h.27v-.28v-.27h.28v-.28v-.28h.28v-.28v-.28h.28v-.27v-.28h.27v-.28v-.28h.28v-.27v-.28h.28v-.28v-.28h.28v-.28v-.27h.28v-.28v-.28h.27v-.28v-.27h.28v-.28v-.28h.28v-.28v-.28h.28v-.27v-.28h.27v-.28v-.28h.28v-.27v-.28h.28v-.28v-.27h.27v-.27v-.26h.27v-.27v-.27h.27v-.27v-.26h.28v-.27v-.27h.27v-.27v-.27h.27v-.26v-.27h.27v-.27v-.28h.21v-.28v-.27h.21v-.28v-.28h.21v-.28v-.27h.21v-.28v-.28h.22v-.28v-.28h.21v-.27v-.28h.21v-.28v-.28h.21v-.27v-.28h.21v-.28v-.28h.28v-.28v-.27h.28v-.28v-.28h.27v-.28v-.27h.28v-.28v-.28h.28v-.28v-.28h.28v-.27v-.28h.27v-.28v-.28h.28v-.27v-.28h.28v-.28v-.28h.28v-.28v-.27h.28v-.28v-.28h.27v-.28v-.27h.28v-.28v-.28h.28v-.28v-.28h.28v-.27v-.28h.27v-.28v-.28h.28v-.27v-.28h.28v-.28v-.27h.31v-.27v-.28h.31v-.27v-.27h.32v-.27v-.27h.31v-.27v-.28h.31v-.27v-.27h.31v-.27v-.27h.32v-.28v-.27h.31v-.27v-.27h.4v-.27v-.28h.4v-.27v-.27h.4v-.27v-.28h.4v-.27v-.27h.4v-.27v-.27h.4v-.28v-.27h.4v-.27v-.27h.4v-.28v-.27h.4v-.27v-.28h.33v-.28v-.27h.34v-.28v-.28h.33v-.28v-.27h.33v-.28v-.28h.34v-.28v-.28h.33v-.27v-.28h.33v-.28v-.28h.34v-.27v-.28h.33v-.28v-.29h.43v-.3v-.29h.43v-.29v-.29h.43v-.3v-.29h.42v-.29v-.3h.43v-.29v-.29h.43v-.29v-.3h.43v-.29v-.29h.46v-.28v-.29h.47v-.29v-.29h.46v-.28v-.29h.46v-.29v-.29h.46v-.28v-.29h.46v-.29v-.29h.47v-.28v-.29h.46v-.29v-.18h.54v-.18v-.18h.55v-.17v-.18h.54v-.18v-.18h.54v-.18v-.18h.54v-.18v-.17h.55v-.18v-.18h.54v-.18v-.18h.54v-.18v-.18h.55v-.17v-.18h.54v-.18v-.18h.54v-.18v-.18h.54v-.18v-.17h.55v-.18v-.18h.54v-.18v-.14h.56v-.14v-.14h.55v-.14v-.13h.56v-.14v-.14h.55v-.14v-.14h.56v-.14v-.14h.55v-.14v-.14h.56v-.13v-.14h.55v-.14v-.14h.56v-.14v-.21h.54v-.2v-.21h.55v-.21v-.21h.54v-.2v-.21h.54v-.21v-.2h.54v-.21v-.21h.55v-.21v-.2h.54v-.21v-.12h.56v-.12v-.13h.55v-.12v-.12h.56v-.12v-.13h.55v-.12v-.12h.56v-.12v-.12h.55v-.13v-.12h.56v-.12v-.12h.55v-.13v-.12h.56v-.12v-.24h.6v-.25v-.24h.6v-.25v-.24h.6v-.25v-.24h.6v-.25v-.24h.6v-.24v-.25h.6v-.24v-.25h.6v-.24v-.25h.6v-.24v-.25h.6v-.24v-.17h.56v-.17v-.18h.55v-.17v-.17h.56v-.17v-.18h.55v-.17v-.17h.56v-.17v-.17h.55v-.18v-.17h.56v-.17v-.17h.55v-.18v-.17h.56v-.17v-.16h.57v-.16v-.15h.56v-.16v-.16h.57v-.16v-.16h.57v-.16v-.16h.56v-.15v-.16h.57v-.16v-.16h.57v-.16v-.16h.56v-.15v-.16h.57v-.16v-.16h.57v-.16v-.16h.56v-.15v-.16h.57v-.16v-.17h.57v-.18v-.17h.58v-.17v-.17h.57v-.18v-.17h.57v-.17v-.17h.57v-.18v-.17h.58v-.17v-.18h.57v-.17v-.17h.57v-.17v-.18h.57v-.17v-.17h.58v-.17v-.18h.57v-.17v-.14h.57v-.14v-.14h.58v-.14v-.14h.57v-.15v-.14h.57v-.14v-.14h.57v-.14v-.14h.58v-.14v-.14h.57v-.14v-.14h.57v-.14v-.15h.57v-.14v-.14h.58v-.14v-.14h.57v-.14v-.22h.54v-.22v-.22h.55v-.23v-.22h.54v-.22v-.22h.54v-.22v-.22h.54v-.22v-.23h.55v-.22v-.22h.54v-.22v-.11h.56v-.1v-.11h.55v-.1v-.11h.56v-.1v-.11h.55v-.1v-.11h.56v-.11v-.1h.55v-.11v-.1h.56v-.11v-.1h.55v-.11v-.1h.56v-.11v-.11h.56v-.1v-.11h.55v-.1v-.11h.56v-.1v-.11h.55v-.1v-.11h.56v-.11v-.1h.55v-.11v-.1h.56v-.11v-.1h.55v-.11v-.1h.56v-.11v-.07h.56v-.07v-.08h.55v-.07v-.07h.56v-.07v-.08h.55v-.07v-.07h.56v-.07v-.07h.55v-.08v-.07h.56v-.07v-.07h.55v-.08v-.07h.56v-.07v-.08h.57v-.08v-.09h.58v-.08v-.08h.57v-.08v-.08h.57v-.08v-.09h.57v-.08v-.08h.58v-.08v-.08h.57v-.09v-.08h.57v-.08v-.08h.57v-.08v-.08h.58v-.09v-.08h.57v-.08v-.09h.57v-.08v-.09h.58v-.09v-.08h.57v-.09v-.08h.57v-.09v-.09h.57v-.08v-.09h.58v-.09v-.08h.57v-.09v-.09h.57v-.08v-.09h.57v-.08v-.09h.58v-.09v-.08h.57v-.09v-.09h.57v-.08v-.09h.58v-.09v-.08h.57v-.09v-.08h.57v-.09v-.09h.57v-.08v-.09h.58v-.09v-.08h.57v-.09v-.09h.57v-.08v-.09h.57v-.08v-.09h.58v-.09v-.08h.57v-.09v-.04h.56v-.04v-.04h.57v-.04v-.04h.56v-.05v-.04h.56v-.04v-.04h.57v-.04v-.04h.56v-.04v-.04h.57v-.04v-.04h.56v-.04v-.05h.56v-.04v-.04h.57v-.04v-.04h.56v-.04h4.9v-.02h.6v-.03v-.03h.6v-.02v-.03h.6v-.02v-.02h.6v-.03v-.02h.6v-.03v-.02h.6v-.03v-.14h.53v-.13v-.14h.53v-.13v-.14h.53v-.13v-.14h.52v-.14v-.13h.53v-.14v-.13h.53v-.14v-.13h.53v-.14v-.13h.5v-.13v-.13h.5v-.13v-.13h.5v-.13v-.13h.5v-.13v-.13h.5v-.13v-.05h.57v-.04v-.05h.58v-.04v-.05h.57v-.04v-.05h.57v-.04v-.05h.57v-.04v-.05h.58v-.05v-.04h.57v-.05v-.04h.57v-.05v-.04h.57v-.05v-.04h.58v-.05v-.04h.57v-.05v-.05h.57v-.06v-.05h.58v-.06v-.05h.57v-.06v-.05h.57v-.06v-.05h.57v-.06v-.05h.58v-.05v-.06h.57v-.05v-.06h.57v-.05v-.06h.57v-.05v-.06h.58v-.05v-.06h.57v-.05v-.07h.57v-.07v-.06h.58v-.07v-.07h.57v-.07v-.07h.57v-.07v-.06h.57v-.07v-.07h.58v-.07v-.07h.57v-.06v-.07h.57v-.07v-.07h.57v-.07v-.07h.58v-.06v-.07h.57v-.07v-.11h.53v-.1v-.11h.53v-.11v-.11h.53v-.1v-.11h.52v-.11v-.1h.53v-.11v-.11h.53v-.11v-.1h.53v-.11v-.05h.58v-.05v-.05h.59v-.05v-.05h.58v-.05v-.05h.59v-.05v-.05h.58v-.05v-.05h.59v-.05v-.05h.58v-.05v-.05h.59v-.05v-.05h.58v-.05v-.05h.59v-.05v-.05h.58v-.05v-.05h.59v-.05v-.05h.58v-.05v-.04h.59v-.03v-.04h.59v-.03v-.04h.58v-.03v-.04h.59v-.03v-.04h.59v-.03v-.04h.59v-.03v-.04h.59v-.03v-.04h.59v-.03v-.04h.58v-.04v-.03h.59v-.04v-.03h.59v-.04v-.03h.59v-.04v-.03h.59v-.04v-.03h.59v-.04v-.03h.58v-.04v-.03h.59v-.04v-.03h.59v-.04v-.02h.59v-.03v-.02h.6v-.02v-.03h.59v-.02v-.02h.6v-.03v-.02h.59v-.03v-.02h.59v-.02v-.03h.6v-.02v-.02h.59v-.03v-.02h.6v-.02v-.03h.59v-.02v-.02h.6v-.03v-.02h.59v-.02v-.03h.59v-.02v-.03h.6v-.02v-.02h.59v-.03v-.02h.6v-.02v-.03h.59v-.02v-.02h.59v-.02v-.02h.59v-.02v-.02h.58v-.02v-.02h.59v-.02v-.03h.59v-.02v-.02h.59v-.02v-.02h.59v-.02v-.02h.59v-.02v-.02h.58v-.02v-.02h.59v-.02v-.02h.59v-.02v-.02h.59v-.02v-.02h.59v-.03v-.02h.59v-.02v-.02h.58v-.02v-.02h.59v-.02v-.02h.59v-.02v-.01h.57v-.02v-.01h.57v-.02v-.01h.57v-.02v-.01h.57v-.02v-.01h.57v-.02v-.01h.57v-.02v-.01h.57v-.02v-.01h.57v-.02v-.01h.58v-.01v-.02h.57v-.01v-.02h.57v-.01v-.02h.57v-.01v-.02h.57v-.01v-.02h.57v-.01v-.02h.57v-.01v-.02h.57v-.01v-.02h.57v-.01v-.02h.58v-.01v-.02h.58v-.01v-.02h.59v-.02v-.01h.58v-.02v-.01h.58v-.02v-.02h.58v-.01v-.02h.58v-.01v-.02h.58v-.01v-.02h.59v-.02v-.01h.58v-.02v-.01h.58v-.02v-.02h.58v-.01v-.02h.58v-.01v-.02h.59v-.02v-.01h.58v-.02v-.01h.58v-.02v-.02h.58v-.01v-.02h.58v-.01v-.02h.58v-.01v-.02h.59v-.02v-.01h.58v-.02v-.01h.58v-.02v-.02h.58v-.03v-.02h.58v-.02v-.02h.59v-.03v-.02h.58v-.02v-.02h.58v-.03v-.02h.58v-.02v-.03h.58v-.02v-.02h.58v-.02v-.03h.59v-.02v-.02h.58v-.02v-.03h.58v-.02v-.02h.58v-.03v-.02h.58v-.02v-.02h.59v-.03v-.02h.58v-.02v-.02h.58v-.03v-.02h.58v-.02v-.03h.58v-.02v-.02h.58v-.02v-.03h.59v-.02v-.02h.58v-.02v-.03h.58v-.02v-.04h.55v-.04v-.03h.55v-.04v-.04h.55v-.04v-.03h.55v-.04v-.04h.55v-.04v-.03h.55v-.04v-.04h.55v-.03v-.04h.55v-.04v-.01h.58v-.01h.58v-.01h.57v-.01h.58v-.01h.58v-.01h.58v-.01h.57v-.01h.58v-.01h.58v-.01v-.01h.58v-.01h.58v-.01h.57v-.01h.58v-.01h.58v-.01h.58v-.01h.57v-.01h.58v-.01h.58v-.01" fill="none" stroke="#d62728" stroke-width="2.0" stroke-linejoin="round" stroke-linecap="square"/>
<path d="M394.30 308.20v-.3h.01v-.3v-.3h.02v-.3v-.3h.01v-.3v-.3h.01v-.3v-.3h.02v-.3v-.3h.01v-.3v-.3h.02v-.3v-.3h.01v-.3v-.3h.01v-.3v-.3h.02v-.3v-.3h.01v-.3v-.3h.01v-.3v-.3h.02v-.3v-.3h.01v-.3v-.3h.01v-.3v-.3h.02v-.3v-.3h.01v-.3v-.3h.02v-.3v-.3h.01v-.3v-.3h.01v-.3v-.3h.02v-.3v-.3h.01v-.3v-.28h.02v-.29v-.28h.02v-.29v-.28h.03v-.29v-.28h.02v-.29v-.28h.02v-.29v-.28h.02v-.29v-.28h.03v-.29v-.28h.02v-.29v-.28h.02v-.29v-.28h.02v-.28v-.29h.02v-.28v-.29h.03v-.28v-.29h.02v-.28v-.29h.02v-.28v-.29h.02v-.28v-.29h.03v-.28v-.29h.02v-.28v-.29h.02v-.28v-.3h.05v-.3v-.3h.04v-.3v-.3h.05v-.3v-.29h.04v-.3v-.3h.05v-.3v-.3h.04v-.3v-.3h.05v-.3v-.3h.04v-.3v-.3h.05v-.3v-.3h.04v-.29v-.3h.05v-.3v-.3h.05v-.3v-.3h.04v-.3v-.3h.05v-.3v-.3h.04v-.3v-.3h.05v-.3v-.3h.04v-.29v-.3h.05v-.3v-.3h.04v-.3v-.3h.05v-.3v-.3h.04v-.3v-.3h.05v-.3v-.3h.05v-.3v-.29h.04v-.3v-.3h.05v-.3v-.3h.04v-.3v-.3h.05v-.3v-.3h.04v-.3v-.3h.05v-.3v-.3h.04v-.29v-.3h.05v-.3v-.3h.04v-.3v-.3h.05v-.3v-.3h.1v-.3v-.3h.1v-.3v-.3h.1v-.3v-.3h.1v-.3v-.3h.1v-.3v-.3h.1v-.3v-.3h.1v-.3v-.3h.1v-.3v-.3h.1v-.3v-.3h.1v-.3v-.3h.1v-.3v-.3h.1v-.3v-.3h.1v-.3v-.3h.1v-.3v-.3h.1v-.3v-.3h.1v-.3v-.3h.1v-.3v-.3h.1v-.3v-.3h.1v-.3v-.3h.1v-.3v-.29h.07v-.3v-.29h.08v-.3v-.29h.07v-.29v-.3h.07v-.29v-.3h.08v-.29v-.3h.07v-.29v-.29h.07v-.3v-.29h.08v-.3v-.29h.07v-.29v-.3h.08v-.29v-.3h.07v-.29v-.29h.07v-.3v-.29h.08v-.3v-.29h.07v-.3v-.29h.07v-.29v-.3h.08v-.29v-.3h.07v-.29v-.29h.07v-.3v-.29h.08v-.3v-.29h.07v-.29v-.3h.07v-.29v-.3h.08v-.29v-.3h.07v-.29v-.29h.07v-.3v-.29h.08v-.3v-.29h.07v-.29v-.3h.08v-.29v-.3h.07v-.29v-.29h.07v-.3v-.29h.08v-.3v-.29h.07v-.3v-.29h.07v-.29v-.3h.08v-.29v-.3h.07v-.29v-.29h.09v-.3v-.29h.09v-.3v-.29h.08v-.29v-.3h.09v-.29v-.3h.09v-.29v-.3h.09v-.29v-.29h.09v-.3v-.29h.09v-.3v-.29h.08v-.29v-.3h.09v-.29v-.3h.09v-.29v-.29h.09v-.3v-.29h.09v-.3v-.29h.09v-.3v-.29h.08v-.29v-.3h.09v-.29v-.3h.09v-.29v-.29h.13v-.29v-.29h.13v-.29v-.29h.13v-.28v-.29h.13v-.29v-.29h.14v-.29v-.29h.13v-.29v-.29h.13v-.29v-.29h.13v-.28v-.29h.13v-.29v-.29h.13v-.29v-.29h.13v-.29v-.29h.14v-.29v-.29h.13v-.29v-.28h.13v-.29v-.29h.13v-.29v-.29h.13v-.29v-.29h.13v-.29v-.29h.12v-.3v-.29h.13v-.29v-.29h.13v-.29v-.29h.12v-.3v-.29h.13v-.29v-.29h.13v-.29v-.29h.12v-.3v-.29h.13v-.29v-.29h.13v-.29v-.29h.12v-.3v-.29h.13v-.29v-.29h.13v-.29v-.29h.12v-.3v-.29h.13v-.29v-.29h.15v-.29v-.29h.14v-.28v-.29h.15v-.29v-.29h.14v-.29v-.29h.15v-.28v-.29h.15v-.29v-.29h.14v-.29v-.29h.15v-.29v-.28h.15v-.29v-.29h.14v-.29v-.29h.15v-.29v-.28h.14v-.29v-.29h.15v-.29v-.29h.12v-.29v-.29h.13v-.3v-.29h.12v-.29v-.29h.12v-.29v-.29h.13v-.3v-.29h.12v-.29v-.29h.12v-.29v-.29h.13v-.3v-.29h.12v-.29v-.29h.12v-.29v-.29h.13v-.3v-.29h.12v-.29v-.29h.12v-.29v-.29h.13v-.3v-.29h.12v-.29v-.29h.17v-.29v-.29h.18v-.28v-.29h.17v-.29v-.29h.17v-.29v-.29h.18v-.28v-.29h.17v-.29v-.29h.17v-.29v-.29h.17v-.29v-.28h.18v-.29v-.29h.17v-.29v-.29h.17v-.29v-.28h.18v-.29v-.29h.17v-.29v-.28h.11v-.29v-.28h.12v-.29v-.28h.11v-.28v-.29h.11v-.28v-.29h.12v-.28v-.28h.11v-.29v-.28h.12v-.29v-.28h.11v-.29v-.28h.11v-.28v-.29h.12v-.28v-.29h.11v-.28v-.28h.21v-.28v-.27h.2v-.28v-.28h.21v-.28v-.27h.2v-.28v-.28h.21v-.28v-.28h.2v-.27v-.28h.21v-.28v-.28h.2v-.27v-.28h.21v-.28v-.28h.14v-.28v-.27h.15v-.28v-.28h.14v-.28v-.27h.15v-.28v-.28h.14v-.28v-.28h.15v-.27v-.28h.14v-.28v-.28h.15v-.27v-.28h.14v-.28v-.27h.26v-.27v-.26h.27v-.27v-.27h.26v-.27v-.26h.27v-.27v-.27h.26v-.27v-.27h.27v-.26v-.27h.26v-.27v-.21h.52v-.21v-.21h.53v-.2v-.21h.52v-.21v-.21h.53v-.21v-.21h.52v-.2v-.21h.53v-.21v-.28h.23v-.29v-.28h.22v-.29v-.28h.23v-.28v-.29h.23v-.28v-.29h.23v-.28v-.28h.22v-.29v-.28h.23v-.29v-.28h.23v-.29v-.28h.23v-.28v-.29h.22v-.28v-.29h.23v-.28v-.27h.36v-.27v-.26h.35v-.27v-.27h.36v-.27v-.26h.36v-.27v-.27h.36v-.27v-.27h.35v-.26v-.27h.36v-.27v-.28h.21v-.28v-.27h.2v-.28v-.28h.21v-.28v-.27h.2v-.28v-.28h.21v-.28v-.28h.2v-.27v-.28h.21v-.28v-.28h.2v-.27v-.28h.21v-.28v-.27h.36v-.27v-.26h.35v-.27v-.27h.36v-.27v-.26h.36v-.27v-.27h.36v-.27v-.27h.35v-.26v-.27h.36v-.27v-.25h.37v-.25v-.25h.37v-.25v-.25h.37v-.25v-.25h.37v-.25v-.25h.37v-.25v-.28h.28v-.28v-.27h.28v-.28v-.28h.27v-.28v-.27h.28v-.28v-.28h.28v-.28v-.28h.28v-.27v-.28h.27v-.28v-.28h.28v-.27v-.28h.28v-.28v-.28h.19v-.28v-.28h.19v-.28v-.28h.19v-.28v-.28h.19v-.28v-.28h.19v-.28v-.28h.19v-.28v-.28h.19v-.28v-.28h.19v-.28v-.28h.19v-.28v-.28h.19v-.28v-.29h.6v-.29v-.29h.6v-.29v-.29h.6v-.29v-.29h.6v-.29v-.29h.6v-.29v-.17h.56v-.17v-.18h.56v-.17v-.17h.57v-.17v-.17h.56v-.17v-.18h.56v-.17v-.17h.56v-.17v-.17h.57v-.18v-.17h.56v-.17v-.28h.34v-.29v-.28h.34v-.29v-.28h.34v-.28v-.29h.34v-.28v-.29h.34v-.28v-.28h.35v-.29v-.28h.34v-.29v-.28h.34v-.29v-.28h.34v-.28v-.29h.34v-.28v-.29h.34v-.28v-.29h.29v-.29v-.29h.29v-.28v-.29h.29v-.29v-.29h.28v-.29v-.29h.29v-.28v-.29h.29v-.29v-.29h.29v-.29v-.29h.29v-.29v-.28h.29v-.29v-.29h.28v-.29v-.29h.29v-.29v-.28h.29v-.29v-.29h.29v-.29v-.27h.15v-.27v-.27h.15v-.27v-.27h.15v-.27v-.27h.15v-.27v-.27h.15v-.27v-.27h.15v-.27v-.27h.15v-.27v-.27h.15v-.27v-.27h.15v-.27v-.27h.15v-.27v-.27h.42v-.26v-.27h.41v-.27v-.26h.42v-.27v-.27h.42v-.26v-.27h.41v-.27v-.26h.42v-.27v-.26h.36v-.27v-.26h.35v-.27v-.26h.36v-.27v-.26h.36v-.26v-.27h.36v-.26v-.27h.35v-.26v-.27h.36v-.26v-.27h.42v-.26v-.27h.41v-.27v-.26h.42v-.27v-.27h.42v-.26v-.27h.41v-.27v-.26h.42v-.27v-.25h.5v-.25v-.25h.5v-.25v-.25h.5v-.25v-.18h.51v-.18v-.18h.52v-.17v-.18h.51v-.18v-.18h.52v-.18v-.18h.51v-.18v-.17h.52v-.18v-.18h.51v-.18v-.11h.56v-.11v-.11h.55v-.11v-.12h.56v-.11v-.11h.55v-.11v-.11h.56v-.11v-.11h.55v-.11v-.11h.56v-.12v-.11h.55v-.11v-.11h.56v-.11v-.25h.6v-.25v-.25h.6v-.25v-.25h.6v-.25v-.25h.6v-.25v-.25h.6v-.25v-.25h.6v-.25v-.25h.6v-.25v-.25h.6v-.25v-.25h.6v-.25v-.2h.56v-.2v-.2h.56v-.2v-.2h.56v-.2v-.2h.56v-.2v-.2h.56v-.2v-.2h.56v-.2v-.2h.56v-.2v-.2h.56v-.2v-.2h.56v-.2v-.2h.56v-.2v-.09h.56v-.09v-.09h.57v-.09v-.09h.56v-.1v-.09h.56v-.09v-.09h.57v-.09v-.09h.56v-.09v-.09h.57v-.09v-.09h.56v-.09v-.1h.56v-.09v-.09h.57v-.09v-.09h.56v-.09v-.09h.56v-.09v-.09h.57v-.09v-.09h.56v-.1v-.09h.56v-.09v-.09h.57v-.09v-.09h.56v-.09v-.09h.57v-.09v-.09h.56v-.09v-.1h.56v-.09v-.09h.57v-.09v-.09h.56v-.09v-.06h.56v-.05v-.06h.55v-.05v-.06h.56v-.05v-.06h.55v-.05v-.06h.56v-.06v-.05h.55v-.06v-.05h.56v-.06v-.05h.55v-.06v-.05h.56v-.06v-.04h.58v-.04v-.05h.59v-.04v-.04h.58v-.04v-.04h.58v-.04v-.05h.59v-.04v-.04h.58v-.04v-.3h.15v-.3v-.3h.15v-.3v-.3h.15v-.3v-.3h.15v-.3v-.3h.15v-.3v-.3h.15v-.3v-.3h.15v-.3v-.3h.15v-.3v-.3h.15v-.3v-.3h.15v-.3v-.19h.58v-.2v-.19h.58v-.2v-.19h.57v-.2v-.19h.58v-.2v-.19h.58v-.19v-.2h.58v-.19v-.2h.57v-.19v-.2h.58v-.19v-.2h.58v-.19v-.11h.56v-.1v-.11h.55v-.1v-.11h.56v-.1v-.11h.55v-.1v-.11h.56v-.11v-.1h.55v-.11v-.1h.56v-.11v-.1h.55v-.11v-.1h.56v-.11v-.07h.56v-.07v-.08h.55v-.07v-.07h.56v-.07v-.08h.55v-.07v-.07h.56v-.07v-.07h.55v-.08v-.07h.56v-.07v-.07h.55v-.08v-.07h.56v-.07v-.08h.57v-.08v-.09h.58v-.08v-.08h.57v-.08v-.08h.57v-.08v-.09h.57v-.08v-.08h.58v-.08v-.08h.57v-.09v-.08h.57v-.08v-.08h.57v-.08v-.08h.58v-.09v-.08h.57v-.08v-.07h.57v-.07v-.06h.58v-.07v-.07h.57v-.07v-.07h.57v-.07v-.06h.57v-.07v-.07h.58v-.07v-.07h.57v-.06v-.07h.57v-.07v-.07h.57v-.07v-.07h.58v-.06v-.07h.57v-.07v-.08h.57v-.08v-.09h.58v-.08v-.08h.57v-.08v-.08h.57v-.08v-.09h.57v-.08v-.08h.58v-.08v-.08h.57v-.09v-.08h.57v-.08v-.08h.57v-.08v-.08h.58v-.09v-.08h.57v-.08v-.04h.56v-.04v-.04h.57v-.04v-.04h.56v-.05v-.04h.56v-.04v-.04h.57v-.04v-.04h.56v-.04v-.04h.57v-.04v-.04h.56v-.04v-.05h.56v-.04v-.04h.57v-.04v-.04h.56v-.04v.01h.57v.01v.01h.56v.01v.02h.57v.01v.01h.57v.01v.01h.56v.01v.01h.57v.01v.01h.57v.02v.01h.56v.01v.01h.57v.01v-.06h.58v-.05v-.06h.57v-.05v-.06h.58v-.06v-.05h.57v-.06v-.06h.57v-.05v-.06h.58v-.05v-.06h.57v-.06v-.05h.58v-.06v-.16h.5v-.16v-.16h.5v-.16v-.16h.5v-.16v-.16h.5v-.16v-.16h.5v-.16v-.3h.21v-.3v-.3h.21v-.3v-.3h.21v-.3v-.3h.21v-.3v-.3h.22v-.3v-.3h.21v-.3v-.3h.21v-.3v-.3h.21v-.3v-.3h.21v-.3v-.12h.53v-.13v-.12h.54v-.13v-.12h.53v-.13v-.12h.53v-.13v-.12h.54v-.13v-.12h.53v-.13v-.06h.56v-.06v-.06h.57v-.06v-.06h.56v-.05v-.06h.56v-.06v-.06h.57v-.06v-.06h.56v-.06v-.06h.57v-.06v-.06h.56v-.06v-.05h.56v-.06v-.06h.57v-.06v-.06h.56v-.06v-.07h.57v-.08v-.07h.58v-.07v-.07h.57v-.08v-.07h.57v-.07v-.07h.57v-.08v-.07h.58v-.07v-.08h.57v-.07v-.07h.57v-.07v-.08h.57v-.07v-.07h.58v-.07v-.08h.57v-.07v-.06h.57v-.06v-.06h.58v-.06v-.06h.57v-.05v-.06h.57v-.06v-.06h.57v-.06v-.06h.58v-.06v-.06h.57v-.06v-.06h.57v-.06v-.05h.57v-.06v-.06h.58v-.06v-.06h.57v-.06v-.04h.57v-.04v-.04h.58v-.04v-.04h.57v-.05v-.04h.57v-.04v-.04h.57v-.04v-.04h.58v-.04v-.04h.57v-.04v-.04h.57v-.04v-.05h.57v-.04v-.04h.58v-.04v-.04h.57v-.04v-.02h.59v-.02v-.02h.59v-.02v-.02h.58v-.02v-.02h.59v-.02v-.03h.59v-.02v-.02h.59v-.02v-.02h.59v-.02v-.02h.59v-.02v-.02h.58v-.02v-.02h.59v-.02v-.02h.59v-.02v-.02h.59v-.02v-.02h.59v-.03v-.02h.59v-.02v-.02h.58v-.02v-.02h.59v-.02v-.02h.59v-.02v-.01h.59v-.02v-.01h.6v-.02v-.01h.59v-.02v-.01h.6v-.02v-.01h.59v-.02v-.01h.59v-.02v-.01h.6v-.02v-.01h.59v-.02v-.01h.6v-.01v-.02h.59v-.01v-.02h.6v-.01v-.02h.59v-.01v-.02h.59v-.01v-.02h.6v-.01v-.02h.59v-.01v-.02h.6v-.01v-.02h.59v-.01v-.02h.59v-.03v-.02h.59v-.02v-.03h.58v-.02v-.02h.59v-.03v-.02h.59v-.03v-.02h.59v-.02v-.03h.59v-.02v-.02h.59v-.03v-.02h.58v-.02v-.03h.59v-.02v-.02h.59v-.03v-.02h.59v-.02v-.03h.59v-.02v-.03h.59v-.02v-.02h.58v-.03v-.02h.59v-.02v-.03h.59v-.02v-.01h.59v-.01h.59v-.01h.58v-.01h.59v-.01h.59v-.01h.59v-.01v-.01h.59v-.01h.59v-.01h.58v-.01h.59v-.01h.59v-.01v-.01h.59v-.01h.59v-.01h.59v-.01h.58v-.01h.59v-.01h.59v-.01h42.6" fill="none" stroke="#d62728" stroke-width="2.0" stroke-linejoin="round" stroke-dasharray="7.4 3.2"/>
<path d="M394.30 308.20v-.3h.01v-.29v-.3h.01v-.3v-.3h.01v-.29v-.3h.01v-.3v-.3h.01v-.29v-.3h.01v-.3v-.3v-.29v-.3h.01v-.3v-.3h.01v-.29v-.3h.01v-.3v-.29h.01v-.3v-.3h.01v-.3v-.29h.01v-.3v-.3h.01v-.3v-.29h.01v-.3v-.3h.01v-.3v-.29h.01v-.3v-.3h.01v-.3v-.29v-.3v-.3h.01v-.29v-.3h.01v-.3v-.3h.01v-.29v-.3h.01v-.3v-.3h.01v-.29v-.3h.01v-.3v-.3h.01v-.29v-.3h.01v-.3v-.3h.01v-.29v-.3h.01v-.3v-.29h.01v-.3v-.3h.01v-.3v-.29v-.3v-.3h.01v-.3v-.29h.01v-.3v-.3h.01v-.3v-.29h.01v-.3v-.3h.01v-.3v-.29h.01v-.3v-.3h.01v-.29v-.3h.01v-.3v-.3h.01v-.29v-.3h.01v-.3v-.3h.01v-.29v-.3h.01v-.3v-.3v-.29v-.3h.01v-.3v-.3h.01v-.29v-.3h.01v-.3v-.29h.01v-.3v-.3h.01v-.3v-.29h.01v-.3v-.3h.01v-.3v-.29h.01v-.3v-.3h.01v-.3v-.29h.01v-.3v-.3h.01v-.3v-.29v-.3v-.3h.01v-.29v-.3h.01v-.3v-.3h.01v-.29v-.3h.01v-.3v-.3h.01v-.29v-.3h.01v-.3v-.3h.01v-.29v-.3h.01v-.3v-.3h.01v-.29v-.3h.01v-.3v-.29h.01v-.3v-.3h.01v-.3v-.29v-.3v-.3h.01v-.3v-.29h.01v-.3v-.3h.01v-.3v-.29h.01v-.3v-.3h.01v-.3v-.29h.01v-.3v-.3h.02v-.3v-.3h.03v-.3v-.3h.02v-.3v-.3h.03v-.3v-.3h.02v-.3v-.3h.02v-.3v-.3h.03v-.3v-.3h.02v-.3v-.3h.03v-.3v-.3h.02v-.3v-.3h.02v-.3v-.3h.03v-.3v-.3h.02v-.3v-.3h.03v-.3v-.3h.02v-.3v-.3h.02v-.3v-.3h.03v-.3v-.3h.02v-.3v-.3h.03v-.3v-.3h.02v-.3v-.3h.02v-.3v-.3h.03v-.3v-.3h.02v-.3v-.3h.03v-.3v-.3h.02v-.3v-.3h.03v-.3v-.29h.03v-.3v-.3h.03v-.3v-.29h.03v-.3v-.3h.03v-.3v-.29h.04v-.3v-.3h.03v-.3v-.29h.03v-.3v-.3h.03v-.3v-.29h.03v-.3v-.3h.03v-.3v-.3h.03v-.29v-.3h.03v-.3v-.3h.03v-.29v-.3h.03v-.3v-.3h.04v-.29v-.3h.03v-.3v-.3h.03v-.29v-.3h.03v-.3v-.3h.03v-.29v-.3h.03v-.3v-.3h.05v-.29v-.3h.06v-.29v-.3h.05v-.3v-.29h.05v-.3v-.29h.05v-.3v-.3h.06v-.29v-.3h.05v-.29v-.3h.05v-.3v-.29h.05v-.3v-.29h.06v-.3v-.3h.05v-.29v-.3h.05v-.3v-.29h.05v-.3v-.29h.06v-.3v-.3h.05v-.29v-.3h.05v-.29v-.3h.05v-.3v-.29h.06v-.3v-.29h.05v-.3v-.27h.03v-.26v-.27h.03v-.26v-.27h.03v-.26v-.27h.04v-.26v-.27h.03v-.27v-.26h.03v-.27v-.26h.03v-.27v-.26h.03v-.27v-.29h.05v-.3v-.29h.06v-.3v-.29h.05v-.29v-.3h.05v-.29v-.3h.05v-.29v-.3h.06v-.29v-.29h.05v-.3v-.29h.05v-.3v-.29h.06v-.29v-.3h.05v-.29v-.3h.05v-.29v-.29h.06v-.3v-.29h.05v-.3v-.29h.05v-.3v-.29h.05v-.29v-.3h.06v-.29v-.3h.05v-.29v-.29h.07v-.3v-.29h.07v-.3v-.29h.07v-.29v-.3h.07v-.29v-.3h.07v-.29v-.3h.07v-.29v-.29h.07v-.3v-.29h.07v-.3v-.29h.08v-.29v-.3h.07v-.29v-.3h.07v-.29v-.29h.07v-.3v-.29h.07v-.3v-.29h.07v-.3v-.29h.07v-.29v-.3h.07v-.29v-.3h.07v-.29v-.29h.08v-.3v-.29h.07v-.3v-.29h.08v-.29v-.3h.08v-.29v-.3h.07v-.29v-.3h.08v-.29v-.29h.08v-.3v-.29h.07v-.3v-.29h.08v-.29v-.3h.07v-.29v-.3h.08v-.29v-.29h.08v-.3v-.29h.07v-.3v-.29h.08v-.3v-.29h.08v-.29v-.3h.07v-.29v-.3h.08v-.29v-.3h.06v-.3v-.3h.06v-.3v-.3h.06v-.3v-.3h.06v-.3v-.3h.06v-.3v-.3h.06v-.3v-.3h.06v-.3v-.3h.06v-.3v-.3h.06v-.3v-.3h.06v-.3v-.29h.08v-.29v-.29h.09v-.3v-.29h.08v-.29v-.29h.08v-.29v-.29h.09v-.3v-.29h.08v-.29v-.29h.08v-.29v-.29h.09v-.3v-.29h.08v-.29v-.29h.08v-.29v-.29h.09v-.3v-.29h.08v-.29v-.29h.05v-.29v-.29h.05v-.3v-.29h.05v-.29v-.29h.05v-.29v-.29h.05v-.3v-.29h.05v-.29v-.29h.05v-.29v-.29h.05v-.3v-.29h.05v-.29v-.29h.05v-.29v-.29h.05v-.3v-.29h.05v-.29v-.29h.1v-.29v-.29h.1v-.28v-.29h.1v-.29v-.29h.1v-.29v-.29h.1v-.28v-.29h.1v-.29v-.29h.1v-.29v-.29h.1v-.29v-.28h.1v-.29v-.29h.1v-.29v-.29h.1v-.29v-.28h.1v-.29v-.29h.1v-.29v-.29h.14v-.29v-.29h.14v-.28v-.29h.15v-.29v-.29h.14v-.29v-.29h.14v-.28v-.29h.14v-.29v-.29h.15v-.29v-.29h.14v-.29v-.28h.14v-.29v-.29h.14v-.29v-.29h.15v-.29v-.28h.14v-.29v-.29h.14v-.29v-.29h.14v-.29v-.29h.14v-.28v-.29h.15v-.29v-.29h.14v-.29v-.29h.14v-.28v-.29h.14v-.29v-.29h.15v-.29v-.29h.14v-.29v-.28h.14v-.29v-.29h.14v-.29v-.29h.15v-.29v-.28h.14v-.29v-.29h.14v-.29v-.28h.17v-.29v-.28h.18v-.29v-.28h.17v-.28v-.29h.17v-.28v-.29h.17v-.28v-.28h.18v-.29v-.28h.17v-.29v-.28h.17v-.29v-.28h.17v-.28v-.29h.18v-.28v-.29h.17v-.28v-.29h.12v-.28v-.29h.13v-.29v-.29h.12v-.28v-.29h.13v-.29v-.29h.12v-.28v-.29h.13v-.29v-.29h.12v-.28v-.29h.13v-.29v-.29h.12v-.29v-.28h.13v-.29v-.28h.15v-.28v-.28h.16v-.28v-.29h.15v-.28v-.28h.16v-.28v-.28h.15v-.28v-.28h.16v-.28v-.29h.15v-.28v-.28h.15v-.28v-.28h.16v-.28v-.28h.15v-.28v-.29h.16v-.28v-.28h.15v-.28v-.28h.23v-.29v-.28h.22v-.29v-.28h.23v-.28v-.29h.23v-.28v-.29h.23v-.28v-.28h.22v-.29v-.28h.23v-.29v-.28h.23v-.29v-.28h.23v-.28v-.29h.22v-.28v-.29h.23v-.28v-.28h.23v-.29v-.28h.22v-.29v-.28h.23v-.28v-.29h.23v-.28v-.29h.23v-.28v-.28h.22v-.29v-.28h.23v-.29v-.28h.23v-.29v-.28h.23v-.28v-.29h.22v-.28v-.29h.23v-.28v-.28h.28v-.28v-.27h.28v-.28v-.28h.27v-.28v-.27h.28v-.28v-.28h.28v-.28v-.28h.28v-.27v-.28h.27v-.28v-.28h.28v-.27v-.28h.28v-.28v-.28h.28v-.28v-.27h.28v-.28v-.28h.27v-.28v-.27h.28v-.28v-.28h.28v-.28v-.28h.28v-.27v-.28h.27v-.28v-.28h.28v-.27v-.28h.28v-.28v-.28h.25v-.28v-.29h.25v-.28v-.28h.25v-.29v-.28h.25v-.28v-.28h.25v-.28v-.29h.25v-.28v-.28h.25v-.28v-.29h.25v-.28v-.28h.25v-.29v-.28h.25v-.28v-.3h.47v-.3v-.3h.47v-.3v-.3h.47v-.3v-.3h.48v-.3v-.3h.47v-.3v-.3h.47v-.3v-.3h.47v-.3v-.29h.42v-.28v-.29h.41v-.29v-.29h.42v-.28v-.29h.42v-.29v-.29h.41v-.28v-.29h.42v-.29v-.29h.42v-.28v-.29h.41v-.29v-.29h.42v-.29v-.28h.42v-.29v-.29h.41v-.28v-.29h.42v-.29v-.29h.45v-.28v-.29h.46v-.29v-.28h.45v-.29v-.28h.46v-.29v-.29h.45v-.28v-.29h.46v-.29v-.28h.45v-.29v-.29h.46v-.28v-.29h.45v-.28v-.29h.46v-.29v-.28h.45v-.29v-.28h.57v-.28v-.27h.56v-.28v-.28h.57v-.28v-.27h.57v-.28v-.28h.56v-.28v-.28h.57v-.27v-.28h.57v-.28v-.28h.56v-.27v-.28h.57v-.28v-.26h.56v-.25v-.26h.55v-.25v-.26h.56v-.25v-.26h.55v-.25v-.26h.56v-.26v-.25h.55v-.26v-.25h.56v-.26v-.25h.55v-.26v-.25h.56v-.26v-.26h.54v-.25v-.26h.55v-.26v-.26h.54v-.25v-.26h.54v-.26v-.25h.54v-.26v-.26h.55v-.26v-.25h.54v-.26v-.1h.56v-.1v-.1h.55v-.1v-.1h.56v-.1v-.1h.55v-.1v-.1h.56v-.1v-.1h.55v-.1v-.1h.56v-.1v-.1h.55v-.1v-.1h.56v-.1v-.15h.56v-.14v-.15h.57v-.14v-.15h.56v-.14v-.15h.56v-.14v-.15h.57v-.14v-.15h.56v-.15v-.14h.57v-.15v-.14h.56v-.15v-.14h.56v-.15v-.14h.57v-.15v-.14h.56v-.15v-.11h.56v-.12v-.11h.57v-.11v-.12h.56v-.11v-.12h.56v-.11v-.11h.57v-.12v-.11h.56v-.11v-.12h.57v-.11v-.11h.56v-.12v-.11h.56v-.12v-.11h.57v-.11v-.12h.56v-.11v-.17h.56v-.17v-.17h.56v-.17v-.17h.56v-.17v-.16h.57v-.17v-.17h.56v-.17v-.17h.56v-.17v-.17h.56v-.17v-.17h.56v-.17v-.17h.56v-.17v-.17h.57v-.16v-.17h.56v-.17v-.17h.56v-.17v-.17h.56v-.17v-.15h.58v-.14v-.15h.59v-.14v-.15h.58v-.15v-.14h.59v-.15v-.15h.58v-.14v-.15h.59v-.14v-.15h.58v-.15v-.14h.59v-.15v-.14h.58v-.15v-.15h.59v-.14v-.15h.58v-.15v-.14h.59v-.15v-.14h.58v-.15v-.12h.58v-.12v-.12h.57v-.12v-.12h.58v-.12v-.11h.58v-.12v-.12h.57v-.12v-.12h.58v-.12v-.12h.58v-.12v-.12h.58v-.12v-.12h.57v-.12v-.12h.58v-.11v-.12h.58v-.12v-.12h.57v-.12v-.12h.58v-.12v-.12h.58v-.13v-.12h.57v-.12v-.13h.58v-.12v-.12h.58v-.12v-.13h.57v-.12v-.12h.58v-.13v-.12h.58v-.12v-.13h.58v-.12v-.12h.57v-.13v-.12h.58v-.12v-.12h.58v-.13v-.12h.57v-.12v-.13h.58v-.12v-.07h.58v-.07v-.07h.59v-.07v-.07h.58v-.07v-.06h.59v-.07v-.07h.58v-.07v-.07h.59v-.07v-.07h.58v-.07v-.07h.59v-.07v-.07h.58v-.07v-.07h.59v-.06v-.07h.58v-.07v-.07h.59v-.07v-.07h.58v-.07v-.05h.58v-.05v-.05h.57v-.05v-.05h.58v-.05v-.05h.58v-.05v-.05h.57v-.05v-.05h.58v-.05v-.05h.58v-.05v-.05h.58v-.05v-.05h.57v-.05v-.05h.58v-.05v-.05h.58v-.05v-.05h.57v-.05v-.05h.58v-.05v-.05h.58v-.05v-.05h.57v-.05v-.05h.58v-.05v-.05h.58v-.05v-.05h.57v-.05v-.05h.58v-.05v-.05h.58v-.05v-.05h.58v-.05v-.05h.57v-.05v-.05h.58v-.05v-.05h.58v-.05v-.05h.57v-.05v-.05h.58v-.05v-.05h.58v-.04v-.05h.59v-.04v-.05h.58v-.05v-.04h.59v-.05v-.05h.58v-.04v-.05h.59v-.04v-.05h.58v-.05v-.04h.59v-.05v-.04h.58v-.05v-.05h.59v-.04v-.05h.58v-.05v-.04h.59v-.05v-.04h.58v-.05v-.03h.58v-.04v-.03h.57v-.04v-.03h.58v-.04v-.03h.58v-.04v-.03h.57v-.04v-.03h.58v-.04v-.03h.58v-.03v-.04h.58v-.03v-.04h.57v-.03v-.04h.58v-.03v-.04h.58v-.03v-.04h.57v-.03v-.04h.58v-.03v-.04h.58v-.04v-.04h.57v-.03v-.04h.58v-.04v-.04h.58v-.04v-.04h.57v-.03v-.04h.58v-.04v-.04h.58v-.04v-.04h.58v-.04v-.03h.57v-.04v-.04h.58v-.04v-.04h.58v-.04v-.03h.57v-.04v-.04h.58v-.04v-.03h.58v-.02v-.03h.59v-.03v-.02h.58v-.03v-.03h.59v-.03v-.02h.58v-.03v-.03h.59v-.02v-.03h.58v-.03v-.02h.59v-.03v-.03h.58v-.02v-.03h.59v-.03v-.03h.58v-.02v-.03h.59v-.03v-.02h.58v-.03v-.03h.57v-.03v-.04h.57v-.03v-.03h.57v-.03v-.04h.57v-.03v-.03h.57v-.03v-.04h.57v-.03v-.03h.57v-.03v-.04h.57v-.03v-.03h.58v-.03v-.03h.57v-.04v-.03h.57v-.03v-.03h.57v-.04v-.03h.57v-.03v-.03h.57v-.04v-.03h.57v-.03v-.03h.57v-.04v-.03h.57v-.03v-.02h.6v-.02v-.02h.59v-.03v-.02h.6v-.02v-.02h.59v-.02v-.02h.6v-.02v-.03h.59v-.02v-.02h.6v-.02v-.02h.59v-.02v-.02h.6v-.03v-.02h.59v-.02v-.02h.6v-.02v-.02h.59v-.02v-.03h.6v-.02v-.02h.59v-.02v-.02h.6v-.02v-.02h.59v-.03v-.02h.6v-.02v-.02h.59v-.02v-.02h.6v-.02v-.03h.59v-.02v-.02h.6v-.02v-.02h.57v-.02v-.01h.58v-.02v-.02h.57v-.02v-.02h.57v-.02v-.01h.57v-.02v-.02h.58v-.02v-.02h.57v-.01v-.02h.57v-.02v-.02h.57v-.02v-.02h.58v-.01v-.02h.57v-.02v-.02h.57v-.02v-.01h.58v-.02v-.02h.57v-.02v-.02h.57v-.02v-.01h.57v-.02v-.02h.58v-.02v-.02h.57v-.01v-.02h.57v-.02v-.02h.57v-.02v-.02h.58v-.01v-.02h.57v-.02h.59v-.01h.58v-.01h.59v-.01h.58v-.01h.59v-.01h.58v-.01h.59v-.01h.59v-.01h.58v-.01h.59v-.01h.58v-.01h.59v-.01h.58v-.01h.59v-.01h.59v-.01h.58v-.01h.59v-.01h.58v-.01h.59v-.01h.58v-.01h.59h70.4" fill="none" stroke="#d62728" stroke-width="2.0" stroke-linejoin="round" stroke-dasharray="2 3.3"/>
</g>
<line x1="380.5" y1="23.1" x2="380.5" y2="322.5" stroke="#949494" stroke-width="1"/>
<line x1="684.5" y1="23.1" x2="684.5" y2="322.5" stroke="#949494" stroke-width="1"/>
<line x1="380.0" y1="23.8" x2="685.0" y2="23.8" stroke="#888" stroke-width="1"/>
<line x1="380.0" y1="322.0" x2="685.0" y2="322.0" stroke="#707070" stroke-width="1"/>
<line x1="394.30" y1="322.0" x2="394.30" y2="323.5" stroke="#666" stroke-width="0.6"/>
<line x1="378.8" y1="308.20" x2="380.5" y2="308.20" stroke="#666" stroke-width="0.6"/>
<text x="387.80" y="331.45" class="tk" textLength="13.0" lengthAdjust="spacingAndGlyphs">0.0</text>
<text x="363.75" y="311.55" class="tk" textLength="13.35" lengthAdjust="spacingAndGlyphs">0.0</text>
<line x1="449.50" y1="322.0" x2="449.50" y2="323.5" stroke="#666" stroke-width="0.6"/>
<line x1="378.8" y1="254.02" x2="380.5" y2="254.02" stroke="#666" stroke-width="0.6"/>
<text x="443.00" y="331.45" class="tk" textLength="13.0" lengthAdjust="spacingAndGlyphs">0.2</text>
<text x="363.75" y="257.37" class="tk" textLength="13.35" lengthAdjust="spacingAndGlyphs">0.2</text>
<line x1="504.70" y1="322.0" x2="504.70" y2="323.5" stroke="#666" stroke-width="0.6"/>
<line x1="378.8" y1="199.84" x2="380.5" y2="199.84" stroke="#666" stroke-width="0.6"/>
<text x="498.20" y="331.45" class="tk" textLength="13.0" lengthAdjust="spacingAndGlyphs">0.4</text>
<text x="363.75" y="203.19" class="tk" textLength="13.35" lengthAdjust="spacingAndGlyphs">0.4</text>
<line x1="559.90" y1="322.0" x2="559.90" y2="323.5" stroke="#666" stroke-width="0.6"/>
<line x1="378.8" y1="145.66" x2="380.5" y2="145.66" stroke="#666" stroke-width="0.6"/>
<text x="553.40" y="331.45" class="tk" textLength="13.0" lengthAdjust="spacingAndGlyphs">0.6</text>
<text x="363.75" y="149.01" class="tk" textLength="13.35" lengthAdjust="spacingAndGlyphs">0.6</text>
<line x1="615.10" y1="322.0" x2="615.10" y2="323.5" stroke="#666" stroke-width="0.6"/>
<line x1="378.8" y1="91.48" x2="380.5" y2="91.48" stroke="#666" stroke-width="0.6"/>
<text x="608.60" y="331.45" class="tk" textLength="13.0" lengthAdjust="spacingAndGlyphs">0.8</text>
<text x="363.75" y="94.83" class="tk" textLength="13.35" lengthAdjust="spacingAndGlyphs">0.8</text>
<line x1="670.30" y1="322.0" x2="670.30" y2="323.5" stroke="#666" stroke-width="0.6"/>
<line x1="378.8" y1="37.30" x2="380.5" y2="37.30" stroke="#666" stroke-width="0.6"/>
<text x="663.80" y="331.45" class="tk" textLength="13.0" lengthAdjust="spacingAndGlyphs">1.0</text>
<text x="363.75" y="40.65" class="tk" textLength="13.35" lengthAdjust="spacingAndGlyphs">1.0</text>
<text x="458.7" y="20.9" class="ti" textLength="147.00000000000006" lengthAdjust="spacingAndGlyphs">Critical Care Decision Group</text>
<text x="493.5" y="342" class="lb" textLength="77.6" lengthAdjust="spacingAndGlyphs">False positive rate</text>
<text transform="translate(360.0,210.0) rotate(-90)" x="0" y="0" class="lb" textLength="74.3" lengthAdjust="spacingAndGlyphs">True positive rate</text>
<line x1="566.9" y1="283.7" x2="585.9" y2="283.7" stroke="#d62728" stroke-width="2.0"/>
<text x="591.7" y="286.6" class="lg" textLength="84.4" lengthAdjust="spacingAndGlyphs">visible | AUC = 0.85</text>
<line x1="567.6999999999999" y1="296.3" x2="585.9" y2="296.3" stroke="#d62728" stroke-width="2.0" stroke-dasharray="7.4 3.2"/>
<text x="591.7" y="299.3" class="lg" textLength="80.2" lengthAdjust="spacingAndGlyphs">silent | AUC = 0.85</text>
<line x1="567.6" y1="309.1" x2="585.9" y2="309.1" stroke="#d62728" stroke-width="2.0" stroke-dasharray="2 3.3"/>
<text x="591.7" y="311.9" class="lg" textLength="78.2" lengthAdjust="spacingAndGlyphs">retro | AUC = 0.91</text>
<text x="357.8" y="15.8" class="pl">b</text>
</svg>
</body></html>
